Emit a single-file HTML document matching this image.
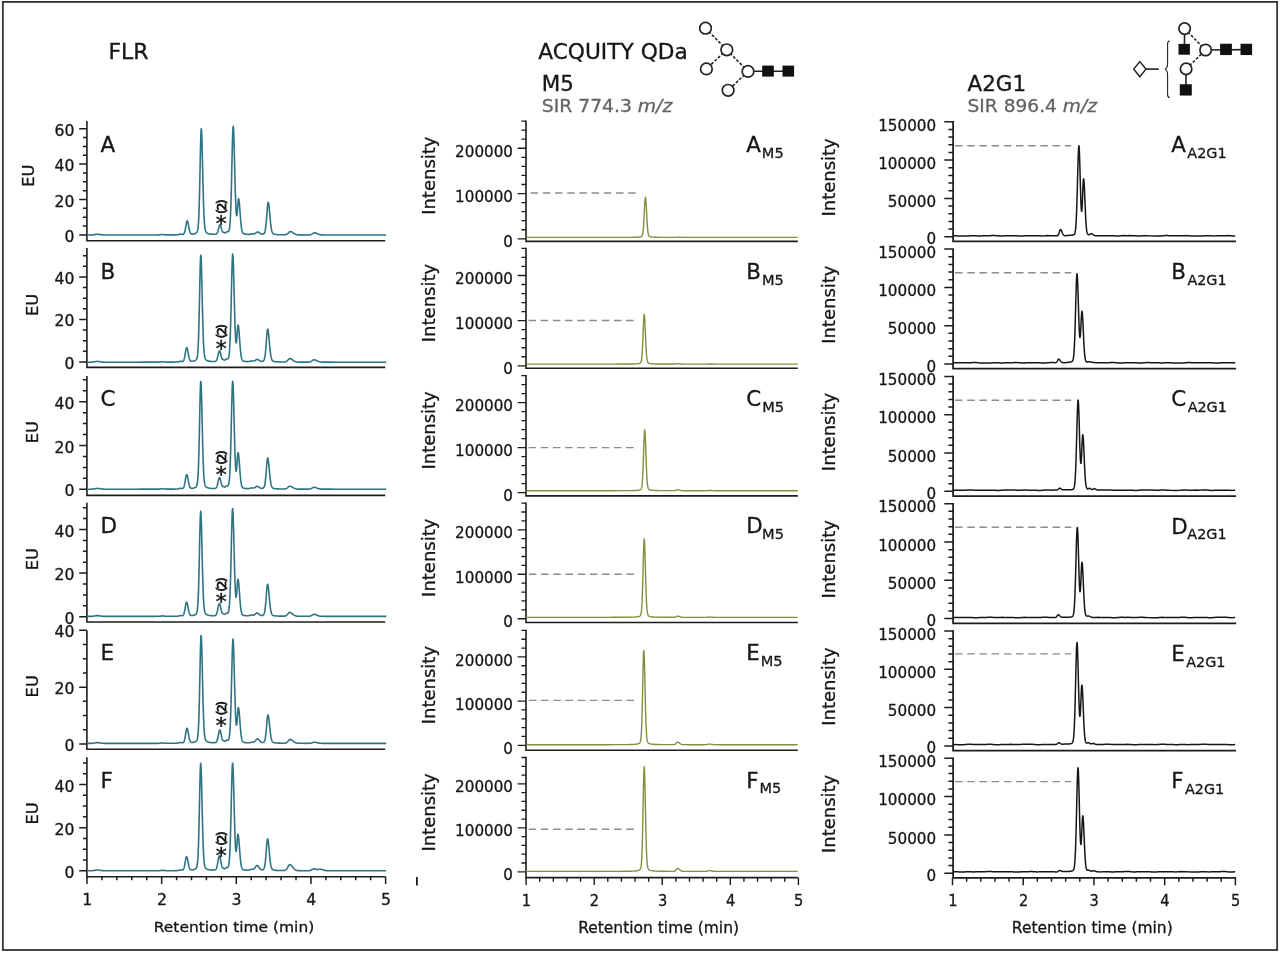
<!DOCTYPE html>
<html lang="en"><head><meta charset="utf-8"><title>FLR and ACQUITY QDa chromatograms</title>
<style>html,body{margin:0;padding:0;background:#fff}svg{display:block}text{font-family:"DejaVu Sans", "Liberation Sans", sans-serif;fill:#161616;stroke:#161616;stroke-width:0.3px}</style></head><body>
<svg width="1280" height="954" viewBox="0 0 1280 954">
<rect x="0" y="0" width="1280" height="954" fill="#fff"/>
<rect x="2.85" y="1.9" width="1274.3" height="948.1" fill="none" stroke="#333" stroke-width="1.8"/>
<text transform="translate(108.4 58.6) scale(1.0427 1)" font-size="21.1">FLR</text>
<text transform="translate(538.2 58.65) scale(1.0293 1)" font-size="21.1">ACQUITY QDa</text>
<text transform="translate(541.7 91.25) scale(1.0190 1)" font-size="21">M5</text>
<text transform="translate(541.8 112.4) scale(1.1096 1)" font-size="16.9" style="fill:#636363;stroke:#636363">SIR 774.3 <tspan font-style="italic">m/z</tspan></text>
<text transform="translate(967.6 91.3) scale(1.0190 1)" font-size="21">A2G1</text>
<text transform="translate(967.5 112.35) scale(1.1011 1)" font-size="16.9" style="fill:#636363;stroke:#636363">SIR 896.4 <tspan font-style="italic">m/z</tspan></text>
<g><path d="M86.9 121.1 V240.7 H385.2" fill="none" stroke="#1c1c1c" stroke-width="1.6" stroke-linejoin="miter"/><text transform="translate(74.5 241.9) scale(1.0288 1)" font-size="15.2" text-anchor="end">0</text><text transform="translate(74.5 206.5) scale(1.0288 1)" font-size="15.2" text-anchor="end">20</text><text transform="translate(74.5 171.1) scale(1.0288 1)" font-size="15.2" text-anchor="end">40</text><text transform="translate(74.5 135.7) scale(1.0288 1)" font-size="15.2" text-anchor="end">60</text><path d="M79.2 234.9H86.9M82.9 226.05H86.9M82.9 217.2H86.9M82.9 208.35H86.9M79.2 199.5H86.9M82.9 190.65H86.9M82.9 181.8H86.9M82.9 172.95H86.9M79.2 164.1H86.9M82.9 155.25H86.9M82.9 146.4H86.9M82.9 137.55H86.9M79.2 128.7H86.9" stroke="#1c1c1c" stroke-width="1.5" fill="none"/><text transform="translate(34.3 175.75) rotate(-90) scale(1.0639 1)" font-size="15.3" text-anchor="middle">EU</text><text transform="translate(100.5 151.8) scale(1.0190 1)" font-size="21.1">A</text><path d="M87.2 234.99 L91.2 234.95 L91.95 234.92 L92.45 234.88 L92.95 234.83 L93.2 234.8 L93.45 234.77 L93.7 234.73 L93.95 234.69 L94.2 234.65 L94.45 234.6 L94.7 234.56 L94.95 234.51 L95.2 234.46 L95.45 234.42 L95.7 234.37 L95.95 234.33 L96.2 234.3 L96.45 234.26 L96.95 234.22 L98.45 234.25 L98.7 234.28 L98.95 234.32 L99.2 234.36 L99.45 234.4 L99.7 234.45 L99.95 234.49 L100.2 234.54 L100.45 234.59 L100.7 234.63 L100.95 234.67 L101.2 234.71 L101.45 234.75 L101.7 234.79 L101.95 234.82 L102.45 234.87 L102.95 234.91 L103.7 234.95 L105.2 234.98 L111.45 234.99 L117.7 234.99 L123.95 234.98 L130.2 234.98 L136.45 234.98 L142.7 234.97 L148.95 234.97 L155.2 234.96 L158.45 234.93 L159.2 234.88 L159.7 234.84 L159.95 234.81 L160.2 234.77 L160.45 234.73 L160.7 234.69 L160.95 234.65 L161.2 234.62 L161.45 234.58 L161.7 234.55 L162.2 234.51 L163.45 234.56 L163.7 234.59 L163.95 234.63 L164.2 234.67 L164.45 234.71 L164.7 234.74 L164.95 234.78 L165.2 234.81 L165.7 234.86 L166.2 234.89 L167.7 234.92 L173.45 234.89 L176.2 234.86 L177.2 234.82 L177.7 234.78 L177.95 234.74 L178.2 234.7 L178.45 234.64 L178.7 234.57 L178.95 234.49 L179.2 234.41 L179.45 234.32 L179.7 234.24 L179.95 234.18 L180.2 234.13 L180.95 234.12 L181.2 234.17 L181.45 234.22 L181.7 234.28 L181.95 234.34 L182.2 234.39 L182.45 234.42 L182.95 234.4 L183.2 234.32 L183.45 234.19 L183.7 233.97 L183.95 233.65 L184.2 233.2 L184.45 232.6 L184.7 231.82 L184.95 230.86 L185.2 229.72 L185.45 228.41 L185.7 226.99 L185.95 225.52 L186.2 224.1 L186.45 222.82 L186.7 221.8 L186.95 221.14 L187.2 220.9 L187.45 221.09 L187.7 221.67 L187.95 222.57 L188.2 223.71 L188.45 225.01 L188.7 226.37 L188.95 227.72 L189.2 228.98 L189.45 230.12 L189.7 231.1 L189.95 231.91 L190.2 232.57 L190.45 233.07 L190.7 233.44 L190.95 233.71 L191.2 233.89 L191.45 234.01 L191.7 234.09 L191.95 234.12 L192.95 234.09 L193.2 234.06 L193.45 234.02 L193.7 233.98 L193.95 233.92 L194.2 233.86 L194.45 233.8 L194.7 233.72 L194.95 233.64 L195.2 233.54 L195.45 233.44 L195.7 233.31 L195.95 233.17 L196.2 233 L196.45 232.79 L196.7 232.52 L196.95 232.16 L197.2 231.66 L197.45 230.95 L197.7 229.9 L197.95 228.37 L198.2 226.16 L198.45 223.02 L198.7 218.71 L198.95 212.98 L199.2 205.66 L199.45 196.7 L199.7 186.23 L199.95 174.63 L200.2 162.51 L200.45 150.75 L200.7 140.44 L200.95 132.78 L201.2 128.86 L201.45 129.17 L201.7 133.11 L201.95 140.11 L202.2 149.33 L202.45 159.88 L202.7 170.9 L202.95 181.69 L203.2 191.73 L203.45 200.63 L203.7 208.23 L203.95 214.46 L204.2 219.41 L204.45 223.21 L204.7 226.05 L204.95 228.12 L205.2 229.6 L205.45 230.65 L205.7 231.39 L205.95 231.92 L206.2 232.31 L206.45 232.6 L206.7 232.82 L206.95 233 L207.2 233.15 L207.45 233.28 L207.7 233.4 L207.95 233.5 L208.2 233.59 L208.45 233.67 L208.7 233.74 L208.95 233.8 L209.2 233.86 L209.45 233.92 L209.7 233.96 L209.95 234.01 L210.2 234.05 L210.45 234.09 L210.7 234.12 L210.95 234.15 L211.45 234.2 L211.95 234.24 L212.45 234.28 L213.2 234.32 L215.2 234.31 L215.45 234.28 L215.7 234.23 L215.95 234.15 L216.2 234.04 L216.45 233.87 L216.7 233.64 L216.95 233.32 L217.2 232.91 L217.45 232.38 L217.7 231.72 L217.95 230.95 L218.2 230.08 L218.45 229.13 L218.7 228.14 L218.95 227.19 L219.2 226.32 L219.45 225.61 L219.7 225.12 L219.95 224.91 L220.2 224.99 L220.45 225.35 L220.7 225.95 L220.95 226.73 L221.2 227.63 L221.45 228.57 L221.7 229.47 L221.95 230.29 L222.2 230.99 L222.45 231.53 L222.7 231.91 L222.95 232.14 L223.2 232.26 L223.45 232.32 L223.7 232.35 L223.95 232.42 L224.2 232.52 L224.45 232.65 L224.7 232.78 L224.95 232.88 L225.2 232.91 L225.45 232.85 L225.7 232.71 L225.95 232.49 L226.2 232.25 L226.45 232.02 L226.7 231.85 L226.95 231.76 L227.45 231.76 L227.7 231.79 L227.95 231.79 L228.2 231.73 L228.45 231.55 L228.7 231.21 L228.95 230.65 L229.2 229.78 L229.45 228.51 L229.7 226.68 L229.95 224.14 L230.2 220.69 L230.45 216.13 L230.7 210.32 L230.95 203.13 L231.2 194.57 L231.45 184.77 L231.7 174.02 L231.95 162.8 L232.2 151.76 L232.45 141.7 L232.7 133.55 L232.95 128.18 L233.2 126.3 L233.45 127.85 L233.7 132.36 L233.95 139.32 L234.2 148.07 L234.45 157.88 L234.7 168.1 L234.95 178.13 L235.2 187.5 L235.45 195.86 L235.7 202.93 L235.95 208.53 L236.2 212.55 L236.45 214.93 L236.7 215.7 L236.95 214.96 L237.2 212.91 L237.45 209.9 L237.7 206.4 L237.95 202.97 L238.2 200.22 L238.45 198.73 L238.7 198.79 L238.95 199.86 L239.2 201.74 L239.45 204.27 L239.7 207.29 L239.95 210.59 L240.2 213.98 L240.45 217.28 L240.7 220.36 L240.95 223.12 L241.2 225.52 L241.45 227.52 L241.7 229.15 L241.95 230.44 L242.2 231.42 L242.45 232.16 L242.7 232.71 L242.95 233.1 L243.2 233.39 L243.45 233.59 L243.7 233.74 L243.95 233.85 L244.2 233.94 L244.45 234 L244.7 234.06 L244.95 234.11 L245.2 234.15 L245.45 234.18 L245.7 234.22 L245.95 234.25 L246.45 234.3 L246.95 234.35 L247.45 234.38 L248.2 234.41 L249.2 234.38 L249.45 234.35 L249.7 234.31 L249.95 234.26 L250.2 234.21 L250.45 234.14 L250.7 234.07 L250.95 234 L251.2 233.94 L251.45 233.88 L251.7 233.84 L252.2 233.8 L252.95 233.85 L253.45 233.89 L253.95 233.89 L254.2 233.85 L254.45 233.79 L254.7 233.7 L254.95 233.58 L255.2 233.44 L255.45 233.27 L255.7 233.09 L255.95 232.9 L256.2 232.71 L256.45 232.52 L256.7 232.35 L256.95 232.21 L257.2 232.1 L257.45 232.03 L257.95 232.02 L258.2 232.08 L258.45 232.19 L258.7 232.33 L258.95 232.49 L259.2 232.67 L259.45 232.86 L259.7 233.06 L259.95 233.25 L260.2 233.43 L260.45 233.59 L260.7 233.73 L260.95 233.85 L261.2 233.96 L261.45 234.04 L261.7 234.1 L261.95 234.14 L262.7 234.14 L262.95 234.11 L263.2 234.05 L263.45 233.96 L263.7 233.83 L263.95 233.64 L264.2 233.37 L264.45 232.98 L264.7 232.43 L264.95 231.66 L265.2 230.63 L265.45 229.26 L265.7 227.52 L265.95 225.36 L266.2 222.79 L266.45 219.85 L266.7 216.62 L266.95 213.25 L267.2 209.93 L267.45 206.91 L267.7 204.47 L267.95 202.86 L268.2 202.3 L268.45 202.71 L268.7 203.88 L268.95 205.71 L269.2 208.04 L269.45 210.7 L269.7 213.53 L269.95 216.38 L270.2 219.15 L270.45 221.73 L270.7 224.06 L270.95 226.1 L271.2 227.85 L271.45 229.3 L271.7 230.49 L271.95 231.43 L272.2 232.16 L272.45 232.72 L272.7 233.15 L272.95 233.47 L273.2 233.7 L273.45 233.88 L273.7 234.01 L273.95 234.12 L274.2 234.2 L274.45 234.26 L274.7 234.32 L274.95 234.36 L275.2 234.4 L275.45 234.44 L275.7 234.47 L276.2 234.52 L276.7 234.57 L277.2 234.6 L277.7 234.64 L278.45 234.68 L279.2 234.71 L280.2 234.74 L281.45 234.77 L285.2 234.73 L285.45 234.7 L285.7 234.65 L285.95 234.6 L286.2 234.52 L286.45 234.43 L286.7 234.31 L286.95 234.18 L287.2 234.01 L287.45 233.83 L287.7 233.62 L287.95 233.38 L288.2 233.14 L288.45 232.88 L288.7 232.61 L288.95 232.36 L289.2 232.12 L289.45 231.9 L289.7 231.72 L289.95 231.59 L290.2 231.52 L290.7 231.52 L290.95 231.57 L291.2 231.65 L291.45 231.75 L291.7 231.88 L291.95 232.02 L292.2 232.18 L292.45 232.35 L292.7 232.52 L292.95 232.71 L293.2 232.89 L293.45 233.08 L293.7 233.25 L293.95 233.43 L294.2 233.59 L294.45 233.75 L294.7 233.89 L294.95 234.02 L295.2 234.14 L295.45 234.25 L295.7 234.35 L295.95 234.44 L296.2 234.51 L296.45 234.58 L296.7 234.63 L296.95 234.68 L297.2 234.72 L297.45 234.76 L297.95 234.81 L298.45 234.85 L299.2 234.88 L300.95 234.91 L307.2 234.93 L308.95 234.9 L309.45 234.87 L309.7 234.84 L309.95 234.81 L310.2 234.77 L310.45 234.72 L310.7 234.66 L310.95 234.58 L311.2 234.49 L311.45 234.38 L311.7 234.26 L311.95 234.12 L312.2 233.97 L312.45 233.81 L312.7 233.65 L312.95 233.48 L313.2 233.32 L313.45 233.17 L313.7 233.03 L313.95 232.93 L314.2 232.85 L314.45 232.81 L314.95 232.82 L315.2 232.85 L315.45 232.91 L315.7 232.97 L315.95 233.05 L316.2 233.15 L316.45 233.25 L316.7 233.36 L316.95 233.47 L317.2 233.58 L317.45 233.7 L317.7 233.82 L317.95 233.93 L318.2 234.04 L318.45 234.14 L318.7 234.24 L318.95 234.33 L319.2 234.41 L319.45 234.49 L319.7 234.55 L319.95 234.61 L320.2 234.67 L320.45 234.71 L320.7 234.75 L320.95 234.79 L321.45 234.84 L321.95 234.88 L322.7 234.91 L324.2 234.95 L330.45 234.97 L336.7 234.98 L342.95 234.98 L349.2 234.98 L355.45 234.99 L361.7 234.99 L367.95 234.99 L374.2 234.99 L380.45 234.99 L386.2 234.99" fill="none" stroke="#2f7484" stroke-width="1.6" stroke-linejoin="round"/><text x="221.2" y="230.9" font-size="22" text-anchor="middle" style="fill:#111;stroke:#111;stroke-width:0.45px">*</text><text transform="translate(226.4 213.9) rotate(-90)" font-size="13" letter-spacing="-1.9" style="fill:#111;stroke:#111;stroke-width:0.7px">(2)</text></g>
<g><path d="M86.9 248.1 V367.4 H385.2" fill="none" stroke="#1c1c1c" stroke-width="1.6" stroke-linejoin="miter"/><text transform="translate(74.5 368.9) scale(1.0288 1)" font-size="15.2" text-anchor="end">0</text><text transform="translate(74.5 326.4) scale(1.0288 1)" font-size="15.2" text-anchor="end">20</text><text transform="translate(74.5 283.9) scale(1.0288 1)" font-size="15.2" text-anchor="end">40</text><path d="M79.2 361.9H86.9M82.9 351.27H86.9M82.9 340.65H86.9M82.9 330.02H86.9M79.2 319.4H86.9M82.9 308.77H86.9M82.9 298.15H86.9M82.9 287.52H86.9M79.2 276.9H86.9M82.9 266.27H86.9M82.9 255.65H86.9" stroke="#1c1c1c" stroke-width="1.5" fill="none"/><text transform="translate(37.7 305) rotate(-90) scale(1.0639 1)" font-size="15.3" text-anchor="middle">EU</text><text transform="translate(100.5 278.96) scale(1.0190 1)" font-size="21.1">B</text><path d="M87.2 362.19 L91.2 362.15 L91.95 362.12 L92.45 362.08 L92.95 362.03 L93.2 362 L93.45 361.97 L93.7 361.93 L93.95 361.89 L94.2 361.85 L94.45 361.8 L94.7 361.76 L94.95 361.71 L95.2 361.66 L95.45 361.62 L95.7 361.57 L95.95 361.53 L96.2 361.5 L96.45 361.46 L96.95 361.42 L98.45 361.45 L98.7 361.48 L98.95 361.52 L99.2 361.56 L99.45 361.6 L99.7 361.65 L99.95 361.69 L100.2 361.74 L100.45 361.79 L100.7 361.83 L100.95 361.87 L101.2 361.91 L101.45 361.95 L101.7 361.99 L101.95 362.02 L102.45 362.07 L102.95 362.11 L103.7 362.15 L105.2 362.18 L111.45 362.19 L117.7 362.18 L123.95 362.18 L130.2 362.18 L136.45 362.18 L142.7 362.17 L148.95 362.17 L155.2 362.16 L158.45 362.12 L159.2 362.08 L159.7 362.03 L159.95 362 L160.2 361.97 L160.45 361.93 L160.7 361.89 L160.95 361.85 L161.2 361.82 L161.45 361.78 L161.7 361.75 L162.2 361.71 L163.45 361.76 L163.7 361.79 L163.95 361.83 L164.2 361.87 L164.45 361.91 L164.7 361.94 L164.95 361.98 L165.2 362.01 L165.7 362.05 L166.2 362.09 L167.7 362.12 L173.2 362.09 L175.95 362.05 L177.2 362.01 L177.7 361.97 L177.95 361.93 L178.2 361.89 L178.45 361.83 L178.7 361.77 L178.95 361.69 L179.2 361.61 L179.45 361.52 L179.7 361.45 L179.95 361.38 L180.2 361.33 L180.7 361.3 L180.95 361.32 L181.2 361.35 L181.45 361.4 L181.7 361.45 L181.95 361.49 L182.45 361.49 L182.7 361.43 L182.95 361.3 L183.2 361.09 L183.45 360.77 L183.7 360.31 L183.95 359.69 L184.2 358.89 L184.45 357.89 L184.7 356.7 L184.95 355.33 L185.2 353.85 L185.45 352.32 L185.7 350.83 L185.95 349.5 L186.2 348.44 L186.45 347.75 L186.7 347.5 L186.95 347.7 L187.2 348.3 L187.45 349.24 L187.7 350.44 L187.95 351.79 L188.2 353.21 L188.45 354.62 L188.7 355.94 L188.95 357.12 L189.2 358.15 L189.45 359 L189.7 359.68 L189.95 360.2 L190.2 360.59 L190.45 360.87 L190.7 361.07 L190.95 361.19 L191.2 361.27 L191.45 361.31 L192.45 361.28 L192.7 361.25 L192.95 361.21 L193.2 361.17 L193.45 361.11 L193.7 361.05 L193.95 360.99 L194.2 360.91 L194.45 360.83 L194.7 360.73 L194.95 360.62 L195.2 360.5 L195.45 360.36 L195.7 360.18 L195.95 359.97 L196.2 359.7 L196.45 359.34 L196.7 358.84 L196.95 358.12 L197.2 357.07 L197.45 355.53 L197.7 353.3 L197.95 350.14 L198.2 345.8 L198.45 340.04 L198.7 332.67 L198.95 323.65 L199.2 313.11 L199.45 301.43 L199.7 289.23 L199.95 277.4 L200.2 267.02 L200.45 259.31 L200.7 255.36 L200.95 255.67 L201.2 259.64 L201.45 266.68 L201.7 275.97 L201.95 286.58 L202.2 297.68 L202.45 308.54 L202.7 318.64 L202.95 327.61 L203.2 335.25 L203.45 341.53 L203.7 346.51 L203.95 350.33 L204.2 353.19 L204.45 355.27 L204.7 356.76 L204.95 357.82 L205.2 358.57 L205.45 359.1 L205.7 359.49 L205.95 359.78 L206.2 360.01 L206.45 360.19 L206.7 360.34 L206.95 360.47 L207.2 360.59 L207.45 360.69 L207.7 360.78 L207.95 360.86 L208.2 360.93 L208.45 360.99 L208.7 361.05 L208.95 361.11 L209.2 361.16 L209.45 361.2 L209.7 361.24 L209.95 361.28 L210.2 361.31 L210.45 361.34 L210.95 361.39 L211.45 361.44 L211.95 361.47 L212.7 361.51 L214.7 361.49 L214.95 361.45 L215.2 361.4 L215.45 361.31 L215.7 361.18 L215.95 361 L216.2 360.74 L216.45 360.38 L216.7 359.91 L216.95 359.31 L217.2 358.58 L217.45 357.71 L217.7 356.72 L217.95 355.65 L218.2 354.55 L218.45 353.47 L218.7 352.49 L218.95 351.7 L219.2 351.15 L219.45 350.91 L219.7 351 L219.95 351.4 L220.2 352.09 L220.45 352.97 L220.7 353.99 L220.95 355.05 L221.2 356.08 L221.45 357.02 L221.7 357.82 L221.95 358.45 L222.2 358.91 L222.45 359.21 L222.7 359.38 L222.95 359.47 L223.2 359.54 L223.45 359.62 L223.7 359.73 L223.95 359.87 L224.2 360 L224.45 360.09 L224.7 360.12 L224.95 360.06 L225.2 359.91 L225.45 359.69 L225.7 359.45 L225.95 359.22 L226.2 359.05 L226.45 358.96 L226.95 358.96 L227.2 358.99 L227.45 359 L227.7 358.94 L227.95 358.76 L228.2 358.42 L228.45 357.86 L228.7 357 L228.95 355.73 L229.2 353.92 L229.45 351.39 L229.7 347.96 L229.95 343.43 L230.2 337.65 L230.45 330.51 L230.7 321.99 L230.95 312.25 L231.2 301.56 L231.45 290.4 L231.7 279.42 L231.95 269.42 L232.2 261.31 L232.45 255.97 L232.7 254.1 L232.95 255.65 L233.2 260.16 L233.45 267.11 L233.7 275.85 L233.95 285.64 L234.2 295.82 L234.45 305.81 L234.7 315.14 L234.95 323.45 L235.2 330.46 L235.45 335.99 L235.7 339.94 L235.95 342.24 L236.2 342.91 L236.45 342.04 L236.7 339.86 L236.95 336.7 L237.2 333.04 L237.45 329.46 L237.7 326.61 L237.95 325.04 L238.2 325.09 L238.45 326.18 L238.7 328.1 L238.95 330.7 L239.2 333.8 L239.45 337.18 L239.7 340.66 L239.95 344.04 L240.2 347.21 L240.45 350.04 L240.7 352.5 L240.95 354.56 L241.2 356.23 L241.45 357.55 L241.7 358.56 L241.95 359.32 L242.2 359.88 L242.45 360.28 L242.7 360.57 L242.95 360.78 L243.2 360.93 L243.45 361.05 L243.7 361.13 L243.95 361.2 L244.2 361.26 L244.45 361.3 L244.7 361.35 L244.95 361.38 L245.2 361.42 L245.45 361.45 L245.95 361.5 L246.45 361.54 L246.95 361.58 L248.7 361.56 L248.95 361.53 L249.2 361.48 L249.45 361.43 L249.7 361.36 L249.95 361.29 L250.2 361.21 L250.45 361.13 L250.7 361.05 L250.95 360.99 L251.2 360.94 L251.45 360.91 L252.2 360.93 L252.45 360.97 L252.7 361.01 L252.95 361.04 L253.7 361.05 L253.95 361.01 L254.2 360.94 L254.45 360.84 L254.7 360.71 L254.95 360.56 L255.2 360.4 L255.45 360.23 L255.7 360.05 L255.95 359.88 L256.2 359.72 L256.45 359.59 L256.7 359.49 L256.95 359.42 L257.45 359.42 L257.7 359.48 L257.95 359.57 L258.2 359.7 L258.45 359.85 L258.7 360.02 L258.95 360.19 L259.2 360.37 L259.45 360.55 L259.7 360.71 L259.95 360.86 L260.2 360.99 L260.45 361.1 L260.7 361.19 L260.95 361.26 L261.2 361.32 L261.45 361.35 L262.2 361.35 L262.45 361.31 L262.7 361.25 L262.95 361.16 L263.2 361.02 L263.45 360.83 L263.7 360.56 L263.95 360.16 L264.2 359.61 L264.45 358.84 L264.7 357.79 L264.95 356.41 L265.2 354.65 L265.45 352.47 L265.7 349.88 L265.95 346.91 L266.2 343.65 L266.45 340.25 L266.7 336.9 L266.95 333.86 L267.2 331.39 L267.45 329.77 L267.7 329.2 L267.95 329.61 L268.2 330.79 L268.45 332.64 L268.7 334.99 L268.95 337.67 L269.2 340.53 L269.45 343.41 L269.7 346.2 L269.95 348.81 L270.2 351.16 L270.45 353.22 L270.7 354.99 L270.95 356.45 L271.2 357.65 L271.45 358.6 L271.7 359.33 L271.95 359.9 L272.2 360.33 L272.45 360.65 L272.7 360.89 L272.95 361.07 L273.2 361.21 L273.45 361.31 L273.7 361.39 L273.95 361.46 L274.2 361.51 L274.45 361.56 L274.7 361.6 L274.95 361.63 L275.2 361.66 L275.7 361.72 L276.2 361.76 L276.7 361.8 L277.2 361.83 L277.95 361.87 L278.7 361.91 L279.7 361.94 L280.95 361.97 L284.7 361.93 L284.95 361.89 L285.2 361.85 L285.45 361.79 L285.7 361.71 L285.95 361.61 L286.2 361.5 L286.45 361.36 L286.7 361.19 L286.95 361 L287.2 360.78 L287.45 360.54 L287.7 360.28 L287.95 360.02 L288.2 359.75 L288.45 359.48 L288.7 359.23 L288.95 359.01 L289.2 358.83 L289.45 358.7 L289.7 358.62 L290.2 358.62 L290.45 358.67 L290.7 358.75 L290.95 358.86 L291.2 358.99 L291.45 359.13 L291.7 359.3 L291.95 359.47 L292.2 359.65 L292.45 359.84 L292.7 360.03 L292.95 360.22 L293.2 360.4 L293.45 360.58 L293.7 360.75 L293.95 360.91 L294.2 361.06 L294.45 361.2 L294.7 361.32 L294.95 361.43 L295.2 361.53 L295.45 361.62 L295.7 361.7 L295.95 361.77 L296.2 361.82 L296.45 361.87 L296.7 361.92 L296.95 361.95 L297.45 362.01 L297.95 362.04 L298.7 362.08 L300.45 362.11 L306.7 362.12 L308.45 362.09 L308.95 362.06 L309.2 362.03 L309.45 362 L309.7 361.95 L309.95 361.9 L310.2 361.83 L310.45 361.75 L310.7 361.65 L310.95 361.53 L311.2 361.4 L311.45 361.25 L311.7 361.08 L311.95 360.91 L312.2 360.72 L312.45 360.54 L312.7 360.36 L312.95 360.2 L313.2 360.05 L313.45 359.94 L313.7 359.85 L313.95 359.81 L314.45 359.82 L314.7 359.86 L314.95 359.91 L315.2 359.99 L315.45 360.08 L315.7 360.18 L315.95 360.29 L316.2 360.41 L316.45 360.53 L316.7 360.66 L316.95 360.78 L317.2 360.91 L317.45 361.03 L317.7 361.15 L317.95 361.26 L318.2 361.37 L318.45 361.47 L318.7 361.56 L318.95 361.64 L319.2 361.71 L319.45 361.78 L319.7 361.84 L319.95 361.89 L320.2 361.93 L320.45 361.97 L320.7 362 L321.2 362.05 L321.7 362.09 L322.45 362.12 L324.45 362.15 L330.7 362.17 L336.95 362.18 L343.2 362.18 L349.45 362.18 L355.7 362.19 L361.95 362.19 L368.2 362.19 L374.45 362.19 L380.7 362.19 L386.2 362.19" fill="none" stroke="#2f7484" stroke-width="1.6" stroke-linejoin="round"/><text x="221.2" y="355.5" font-size="22" text-anchor="middle" style="fill:#111;stroke:#111;stroke-width:0.45px">*</text><text transform="translate(226.4 338.5) rotate(-90)" font-size="13" letter-spacing="-1.9" style="fill:#111;stroke:#111;stroke-width:0.7px">(2)</text></g>
<g><path d="M86.9 375.9 V495.4 H385.2" fill="none" stroke="#1c1c1c" stroke-width="1.6" stroke-linejoin="miter"/><text transform="translate(74.5 496.3) scale(1.0288 1)" font-size="15.2" text-anchor="end">0</text><text transform="translate(74.5 452.5) scale(1.0288 1)" font-size="15.2" text-anchor="end">20</text><text transform="translate(74.5 408.7) scale(1.0288 1)" font-size="15.2" text-anchor="end">40</text><path d="M79.2 489.3H86.9M82.9 478.35H86.9M82.9 467.4H86.9M82.9 456.45H86.9M79.2 445.5H86.9M82.9 434.55H86.9M82.9 423.6H86.9M82.9 412.65H86.9M79.2 401.7H86.9M82.9 390.75H86.9M82.9 379.8H86.9" stroke="#1c1c1c" stroke-width="1.5" fill="none"/><text transform="translate(37.7 432.1) rotate(-90) scale(1.0639 1)" font-size="15.3" text-anchor="middle">EU</text><text transform="translate(100.5 406.12) scale(1.0190 1)" font-size="21.1">C</text><path d="M87.2 489.19 L91.2 489.15 L91.95 489.12 L92.45 489.08 L92.95 489.03 L93.2 489 L93.45 488.97 L93.7 488.93 L93.95 488.89 L94.2 488.85 L94.45 488.8 L94.7 488.76 L94.95 488.71 L95.2 488.66 L95.45 488.62 L95.7 488.57 L95.95 488.53 L96.2 488.5 L96.45 488.46 L96.95 488.42 L98.45 488.45 L98.7 488.48 L98.95 488.52 L99.2 488.56 L99.45 488.6 L99.7 488.65 L99.95 488.69 L100.2 488.74 L100.45 488.79 L100.7 488.83 L100.95 488.87 L101.2 488.91 L101.45 488.95 L101.7 488.99 L101.95 489.02 L102.45 489.07 L102.95 489.11 L103.7 489.15 L105.2 489.18 L111.45 489.19 L117.7 489.18 L123.95 489.18 L130.2 489.18 L136.45 489.18 L142.7 489.17 L148.95 489.17 L155.2 489.16 L158.45 489.12 L159.2 489.08 L159.7 489.03 L159.95 489 L160.2 488.97 L160.45 488.93 L160.7 488.89 L160.95 488.85 L161.2 488.82 L161.45 488.78 L161.7 488.75 L162.2 488.71 L163.45 488.76 L163.7 488.79 L163.95 488.83 L164.2 488.87 L164.45 488.91 L164.7 488.94 L164.95 488.98 L165.2 489.01 L165.7 489.05 L166.2 489.09 L167.7 489.12 L173.2 489.09 L175.95 489.05 L177.2 489.01 L177.7 488.97 L177.95 488.93 L178.2 488.89 L178.45 488.83 L178.7 488.77 L178.95 488.69 L179.2 488.61 L179.45 488.52 L179.7 488.45 L179.95 488.38 L180.2 488.33 L180.7 488.3 L180.95 488.32 L181.2 488.35 L181.45 488.4 L181.7 488.45 L181.95 488.48 L182.45 488.49 L182.7 488.43 L182.95 488.3 L183.2 488.09 L183.45 487.77 L183.7 487.31 L183.95 486.69 L184.2 485.89 L184.45 484.89 L184.7 483.69 L184.95 482.33 L185.2 480.85 L185.45 479.32 L185.7 477.83 L185.95 476.5 L186.2 475.44 L186.45 474.75 L186.7 474.5 L186.95 474.7 L187.2 475.3 L187.45 476.24 L187.7 477.44 L187.95 478.79 L188.2 480.21 L188.45 481.61 L188.7 482.93 L188.95 484.12 L189.2 485.14 L189.45 485.99 L189.7 486.67 L189.95 487.2 L190.2 487.59 L190.45 487.87 L190.7 488.06 L190.95 488.19 L191.2 488.26 L191.45 488.3 L192.45 488.28 L192.7 488.24 L192.95 488.2 L193.2 488.16 L193.45 488.11 L193.7 488.05 L193.95 487.98 L194.2 487.9 L194.45 487.82 L194.7 487.72 L194.95 487.61 L195.2 487.49 L195.45 487.34 L195.7 487.17 L195.95 486.95 L196.2 486.68 L196.45 486.32 L196.7 485.81 L196.95 485.09 L197.2 484.03 L197.45 482.47 L197.7 480.23 L197.95 477.04 L198.2 472.67 L198.45 466.85 L198.7 459.42 L198.95 450.32 L199.2 439.7 L199.45 427.92 L199.7 415.62 L199.95 403.69 L200.2 393.22 L200.45 385.45 L200.7 381.46 L200.95 381.78 L201.2 385.78 L201.45 392.88 L201.7 402.24 L201.95 412.95 L202.2 424.14 L202.45 435.09 L202.7 445.28 L202.95 454.32 L203.2 462.03 L203.45 468.36 L203.7 473.38 L203.95 477.23 L204.2 480.11 L204.45 482.21 L204.7 483.72 L204.95 484.78 L205.2 485.54 L205.45 486.07 L205.7 486.47 L205.95 486.76 L206.2 486.99 L206.45 487.17 L206.7 487.33 L206.95 487.46 L207.2 487.57 L207.45 487.68 L207.7 487.77 L207.95 487.85 L208.2 487.92 L208.45 487.99 L208.7 488.05 L208.95 488.1 L209.2 488.15 L209.45 488.19 L209.7 488.23 L209.95 488.27 L210.2 488.3 L210.45 488.33 L210.95 488.39 L211.45 488.43 L211.95 488.46 L212.7 488.5 L214.7 488.48 L214.95 488.45 L215.2 488.39 L215.45 488.3 L215.7 488.16 L215.95 487.97 L216.2 487.7 L216.45 487.33 L216.7 486.84 L216.95 486.22 L217.2 485.46 L217.45 484.56 L217.7 483.54 L217.95 482.43 L218.2 481.28 L218.45 480.16 L218.7 479.15 L218.95 478.33 L219.2 477.76 L219.45 477.51 L219.7 477.6 L219.95 478.02 L220.2 478.73 L220.45 479.65 L220.7 480.71 L220.95 481.81 L221.2 482.88 L221.45 483.86 L221.7 484.69 L221.95 485.36 L222.2 485.84 L222.45 486.16 L222.7 486.35 L222.95 486.46 L223.2 486.53 L223.45 486.62 L223.7 486.73 L223.95 486.87 L224.2 487.01 L224.45 487.1 L224.7 487.12 L224.95 487.06 L225.2 486.91 L225.45 486.69 L225.7 486.45 L225.95 486.22 L226.2 486.05 L226.45 485.96 L226.95 485.96 L227.2 486 L227.45 486 L227.7 485.94 L227.95 485.77 L228.2 485.43 L228.45 484.87 L228.7 484.01 L228.95 482.75 L229.2 480.94 L229.45 478.41 L229.7 474.99 L229.95 470.47 L230.2 464.7 L230.45 457.57 L230.7 449.07 L230.95 439.34 L231.2 428.67 L231.45 417.53 L231.7 406.57 L231.95 396.59 L232.2 388.49 L232.45 383.17 L232.7 381.3 L232.95 382.91 L233.2 387.57 L233.45 394.75 L233.7 403.74 L233.95 413.76 L234.2 424.14 L234.45 434.27 L234.7 443.67 L234.95 452 L235.2 458.98 L235.45 464.47 L235.7 468.35 L235.95 470.59 L236.2 471.21 L236.45 470.29 L236.7 468.05 L236.95 464.8 L237.2 461.04 L237.45 457.36 L237.7 454.4 L237.95 452.77 L238.2 452.78 L238.45 453.84 L238.7 455.72 L238.95 458.27 L239.2 461.31 L239.45 464.63 L239.7 468.05 L239.95 471.37 L240.2 474.48 L240.45 477.27 L240.7 479.69 L240.95 481.71 L241.2 483.35 L241.45 484.65 L241.7 485.64 L241.95 486.39 L242.2 486.93 L242.45 487.33 L242.7 487.62 L242.95 487.82 L243.2 487.97 L243.45 488.08 L243.7 488.16 L243.95 488.23 L244.2 488.28 L244.45 488.33 L244.7 488.37 L244.95 488.41 L245.2 488.44 L245.7 488.5 L246.2 488.54 L246.7 488.58 L247.45 488.62 L248.7 488.58 L248.95 488.54 L249.2 488.5 L249.45 488.44 L249.7 488.37 L249.95 488.29 L250.2 488.21 L250.45 488.13 L250.7 488.06 L250.95 487.99 L251.2 487.94 L251.45 487.91 L252.2 487.93 L252.45 487.97 L252.7 488 L252.95 488.04 L253.7 488.04 L253.95 487.99 L254.2 487.91 L254.45 487.81 L254.7 487.67 L254.95 487.52 L255.2 487.35 L255.45 487.16 L255.7 486.98 L255.95 486.8 L256.2 486.64 L256.45 486.5 L256.7 486.39 L256.95 486.33 L257.45 486.32 L257.7 486.38 L257.95 486.48 L258.2 486.62 L258.45 486.77 L258.7 486.95 L258.95 487.14 L259.2 487.32 L259.45 487.51 L259.7 487.68 L259.95 487.84 L260.2 487.98 L260.45 488.1 L260.7 488.19 L260.95 488.27 L261.2 488.33 L261.45 488.37 L262.2 488.38 L262.45 488.34 L262.7 488.29 L262.95 488.2 L263.2 488.08 L263.45 487.9 L263.7 487.64 L263.95 487.26 L264.2 486.74 L264.45 486.01 L264.7 485.01 L264.95 483.71 L265.2 482.04 L265.45 479.97 L265.7 477.51 L265.95 474.69 L266.2 471.6 L266.45 468.38 L266.7 465.21 L266.95 462.32 L267.2 459.97 L267.45 458.44 L267.7 457.9 L267.95 458.29 L268.2 459.41 L268.45 461.16 L268.7 463.39 L268.95 465.94 L269.2 468.65 L269.45 471.38 L269.7 474.03 L269.95 476.49 L270.2 478.73 L270.45 480.68 L270.7 482.36 L270.95 483.75 L271.2 484.88 L271.45 485.78 L271.7 486.48 L271.95 487.02 L272.2 487.43 L272.45 487.73 L272.7 487.96 L272.95 488.13 L273.2 488.26 L273.45 488.35 L273.7 488.43 L273.95 488.49 L274.2 488.55 L274.45 488.59 L274.7 488.63 L274.95 488.66 L275.45 488.72 L275.95 488.76 L276.45 488.8 L276.95 488.84 L277.7 488.88 L278.45 488.91 L279.45 488.95 L280.7 488.98 L282.95 489.01 L284.45 488.97 L284.95 488.93 L285.2 488.89 L285.45 488.84 L285.7 488.78 L285.95 488.7 L286.2 488.6 L286.45 488.48 L286.7 488.35 L286.95 488.19 L287.2 488.01 L287.45 487.81 L287.7 487.6 L287.95 487.37 L288.2 487.15 L288.45 486.93 L288.7 486.73 L288.95 486.54 L289.2 486.39 L289.45 486.28 L289.7 486.22 L290.2 486.22 L290.45 486.26 L290.7 486.33 L290.95 486.42 L291.2 486.52 L291.45 486.64 L291.7 486.78 L291.95 486.92 L292.2 487.08 L292.45 487.23 L292.7 487.39 L292.95 487.55 L293.2 487.7 L293.45 487.85 L293.7 487.99 L293.95 488.12 L294.2 488.24 L294.45 488.36 L294.7 488.46 L294.95 488.55 L295.2 488.64 L295.45 488.71 L295.7 488.78 L295.95 488.83 L296.2 488.88 L296.45 488.92 L296.7 488.96 L297.2 489.01 L297.7 489.05 L298.45 489.08 L299.95 489.11 L306.2 489.13 L308.7 489.1 L309.2 489.06 L309.45 489.03 L309.7 489 L309.95 488.96 L310.2 488.9 L310.45 488.84 L310.7 488.76 L310.95 488.66 L311.2 488.56 L311.45 488.44 L311.7 488.31 L311.95 488.17 L312.2 488.03 L312.45 487.88 L312.7 487.74 L312.95 487.61 L313.2 487.5 L313.45 487.41 L313.7 487.34 L313.95 487.31 L314.45 487.32 L314.7 487.35 L314.95 487.39 L315.2 487.45 L315.45 487.52 L315.7 487.6 L315.95 487.69 L316.2 487.78 L316.45 487.88 L316.7 487.98 L316.95 488.08 L317.2 488.18 L317.45 488.27 L317.7 488.37 L317.95 488.46 L318.2 488.54 L318.45 488.62 L318.7 488.69 L318.95 488.75 L319.2 488.81 L319.45 488.86 L319.7 488.91 L319.95 488.95 L320.2 488.98 L320.7 489.04 L321.2 489.08 L321.95 489.12 L323.45 489.15 L329.7 489.17 L335.95 489.18 L342.2 489.18 L348.45 489.18 L354.7 489.19 L360.95 489.19 L367.2 489.19 L373.45 489.19 L379.7 489.19 L385.95 489.19 L386.2 489.19" fill="none" stroke="#2f7484" stroke-width="1.6" stroke-linejoin="round"/><text x="221.2" y="481.8" font-size="22" text-anchor="middle" style="fill:#111;stroke:#111;stroke-width:0.45px">*</text><text transform="translate(226.4 464.8) rotate(-90)" font-size="13" letter-spacing="-1.9" style="fill:#111;stroke:#111;stroke-width:0.7px">(2)</text></g>
<g><path d="M86.9 502.8 V622 H385.2" fill="none" stroke="#1c1c1c" stroke-width="1.6" stroke-linejoin="miter"/><text transform="translate(74.5 623.7) scale(1.0288 1)" font-size="15.2" text-anchor="end">0</text><text transform="translate(74.5 580.1) scale(1.0288 1)" font-size="15.2" text-anchor="end">20</text><text transform="translate(74.5 536.5) scale(1.0288 1)" font-size="15.2" text-anchor="end">40</text><path d="M79.2 616.7H86.9M82.9 605.8H86.9M82.9 594.9H86.9M82.9 584H86.9M79.2 573.1H86.9M82.9 562.2H86.9M82.9 551.3H86.9M82.9 540.4H86.9M79.2 529.5H86.9M82.9 518.6H86.9M82.9 507.7H86.9" stroke="#1c1c1c" stroke-width="1.5" fill="none"/><text transform="translate(37.7 559.2) rotate(-90) scale(1.0639 1)" font-size="15.3" text-anchor="middle">EU</text><text transform="translate(100.5 533.28) scale(1.0190 1)" font-size="21.1">D</text><path d="M87.2 616.39 L91.2 616.35 L91.95 616.32 L92.45 616.28 L92.95 616.23 L93.2 616.2 L93.45 616.17 L93.7 616.13 L93.95 616.09 L94.2 616.05 L94.45 616 L94.7 615.96 L94.95 615.91 L95.2 615.86 L95.45 615.82 L95.7 615.77 L95.95 615.73 L96.2 615.7 L96.45 615.66 L96.95 615.62 L98.45 615.65 L98.7 615.68 L98.95 615.72 L99.2 615.76 L99.45 615.8 L99.7 615.85 L99.95 615.89 L100.2 615.94 L100.45 615.99 L100.7 616.03 L100.95 616.07 L101.2 616.11 L101.45 616.15 L101.7 616.19 L101.95 616.22 L102.45 616.27 L102.95 616.31 L103.7 616.35 L105.2 616.38 L111.45 616.39 L117.7 616.38 L123.95 616.38 L130.2 616.38 L136.45 616.38 L142.7 616.37 L148.95 616.37 L155.2 616.36 L158.45 616.32 L159.2 616.28 L159.7 616.23 L159.95 616.2 L160.2 616.17 L160.45 616.13 L160.7 616.09 L160.95 616.05 L161.2 616.02 L161.45 615.98 L161.7 615.95 L162.2 615.91 L163.45 615.96 L163.7 615.99 L163.95 616.03 L164.2 616.07 L164.45 616.11 L164.7 616.14 L164.95 616.18 L165.2 616.21 L165.7 616.26 L166.2 616.29 L167.7 616.32 L173.2 616.29 L175.95 616.26 L177.2 616.21 L177.7 616.17 L177.95 616.14 L178.2 616.09 L178.45 616.03 L178.7 615.97 L178.95 615.89 L179.2 615.81 L179.45 615.72 L179.7 615.65 L179.95 615.58 L180.2 615.53 L180.7 615.5 L180.95 615.52 L181.2 615.55 L181.45 615.59 L181.7 615.64 L181.95 615.68 L182.45 615.67 L182.7 615.59 L182.95 615.44 L183.2 615.2 L183.45 614.85 L183.7 614.35 L183.95 613.68 L184.2 612.83 L184.45 611.79 L184.7 610.57 L184.95 609.2 L185.2 607.74 L185.45 606.27 L185.7 604.88 L185.95 603.69 L186.2 602.79 L186.45 602.29 L186.7 602.23 L186.95 602.58 L187.2 603.3 L187.45 604.32 L187.7 605.54 L187.95 606.89 L188.2 608.26 L188.45 609.59 L188.7 610.82 L188.95 611.9 L189.2 612.83 L189.45 613.58 L189.7 614.18 L189.95 614.63 L190.2 614.96 L190.45 615.19 L190.7 615.35 L190.95 615.45 L191.2 615.51 L191.7 615.54 L192.45 615.49 L192.7 615.45 L192.95 615.41 L193.2 615.37 L193.45 615.31 L193.7 615.25 L193.95 615.18 L194.2 615.1 L194.45 615.02 L194.7 614.92 L194.95 614.81 L195.2 614.68 L195.45 614.53 L195.7 614.34 L195.95 614.12 L196.2 613.82 L196.45 613.42 L196.7 612.85 L196.95 612.03 L197.2 610.83 L197.45 609.08 L197.7 606.56 L197.95 603.03 L198.2 598.24 L198.45 591.97 L198.7 584.1 L198.95 574.63 L199.2 563.8 L199.45 552.06 L199.7 540.12 L199.95 528.95 L200.2 519.68 L200.45 513.49 L200.7 511.3 L200.95 513.11 L201.2 518.29 L201.45 526.18 L201.7 535.91 L201.95 546.6 L202.2 557.46 L202.45 567.87 L202.7 577.35 L202.95 585.64 L203.2 592.6 L203.45 598.23 L203.7 602.64 L203.95 605.98 L204.2 608.46 L204.45 610.25 L204.7 611.52 L204.95 612.42 L205.2 613.06 L205.45 613.52 L205.7 613.86 L205.95 614.12 L206.2 614.32 L206.45 614.49 L206.7 614.63 L206.95 614.75 L207.2 614.85 L207.45 614.95 L207.7 615.03 L207.95 615.11 L208.2 615.17 L208.45 615.24 L208.7 615.29 L208.95 615.34 L209.2 615.39 L209.45 615.43 L209.7 615.47 L209.95 615.5 L210.2 615.53 L210.7 615.58 L211.2 615.63 L211.7 615.66 L212.45 615.7 L214.45 615.69 L214.7 615.66 L214.95 615.61 L215.2 615.53 L215.45 615.41 L215.7 615.24 L215.95 614.99 L216.2 614.65 L216.45 614.19 L216.7 613.59 L216.95 612.84 L217.2 611.94 L217.45 610.88 L217.7 609.71 L217.95 608.45 L218.2 607.19 L218.45 605.98 L218.7 604.93 L218.95 604.12 L219.2 603.63 L219.45 603.51 L219.7 603.76 L219.95 604.36 L220.2 605.26 L220.45 606.35 L220.7 607.55 L220.95 608.77 L221.2 609.94 L221.45 610.97 L221.7 611.84 L221.95 612.52 L222.2 613.01 L222.45 613.34 L222.7 613.53 L222.95 613.66 L223.2 613.76 L223.45 613.87 L223.7 614 L223.95 614.14 L224.2 614.26 L224.45 614.33 L224.7 614.31 L224.95 614.21 L225.2 614.03 L225.45 613.79 L225.7 613.55 L225.95 613.34 L226.2 613.2 L226.45 613.14 L226.7 613.14 L226.95 613.17 L227.45 613.18 L227.7 613.08 L227.95 612.84 L228.2 612.43 L228.45 611.76 L228.7 610.75 L228.95 609.28 L229.2 607.2 L229.45 604.33 L229.7 600.49 L229.95 595.48 L230.2 589.16 L230.45 581.46 L230.7 572.43 L230.95 562.26 L231.2 551.32 L231.45 540.14 L231.7 529.45 L231.95 520.09 L232.2 512.99 L232.45 508.98 L232.7 508.55 L232.95 511.34 L233.2 516.92 L233.45 524.71 L233.7 533.99 L233.95 544.04 L234.2 554.24 L234.45 564.04 L234.7 573 L234.95 580.82 L235.2 587.26 L235.45 592.17 L235.7 595.45 L235.95 597.1 L236.2 597.14 L236.45 595.72 L236.7 593.1 L236.95 589.68 L237.2 585.97 L237.45 582.61 L237.7 580.2 L237.95 579.28 L238.2 579.82 L238.45 581.24 L238.7 583.44 L238.95 586.25 L239.2 589.47 L239.45 592.89 L239.7 596.33 L239.95 599.63 L240.2 602.66 L240.45 605.33 L240.7 607.62 L240.95 609.51 L241.2 611.02 L241.45 612.21 L241.7 613.11 L241.95 613.78 L242.2 614.27 L242.45 614.62 L242.7 614.87 L242.95 615.05 L243.2 615.19 L243.45 615.29 L243.7 615.36 L243.95 615.43 L244.2 615.48 L244.45 615.52 L244.7 615.56 L244.95 615.6 L245.2 615.63 L245.7 615.69 L246.2 615.73 L246.7 615.77 L247.45 615.8 L248.45 615.77 L248.7 615.74 L248.95 615.69 L249.2 615.63 L249.45 615.57 L249.7 615.49 L249.95 615.4 L250.2 615.31 L250.45 615.23 L250.7 615.15 L250.95 615.08 L251.2 615.03 L251.7 615 L252.2 615.04 L252.45 615.08 L252.7 615.11 L253.2 615.15 L253.45 615.13 L253.7 615.08 L253.95 615 L254.2 614.89 L254.45 614.75 L254.7 614.57 L254.95 614.38 L255.2 614.16 L255.45 613.94 L255.7 613.72 L255.95 613.52 L256.2 613.33 L256.45 613.18 L256.7 613.07 L256.95 613.01 L257.2 613 L257.45 613.05 L257.7 613.14 L257.95 613.28 L258.2 613.45 L258.45 613.65 L258.7 613.87 L258.95 614.1 L259.2 614.32 L259.45 614.54 L259.7 614.74 L259.95 614.92 L260.2 615.08 L260.45 615.21 L260.7 615.32 L260.95 615.41 L261.2 615.48 L261.45 615.52 L262.2 615.52 L262.45 615.48 L262.7 615.42 L262.95 615.32 L263.2 615.17 L263.45 614.96 L263.7 614.65 L263.95 614.21 L264.2 613.59 L264.45 612.74 L264.7 611.59 L264.95 610.11 L265.2 608.23 L265.45 605.94 L265.7 603.25 L265.95 600.23 L266.2 596.98 L266.45 593.65 L266.7 590.48 L266.95 587.7 L267.2 585.59 L267.45 584.4 L267.7 584.26 L267.95 584.98 L268.2 586.4 L268.45 588.42 L268.7 590.87 L268.95 593.57 L269.2 596.38 L269.45 599.17 L269.7 601.83 L269.95 604.28 L270.2 606.46 L270.45 608.36 L270.7 609.96 L270.95 611.29 L271.2 612.35 L271.45 613.19 L271.7 613.84 L271.95 614.34 L272.2 614.71 L272.45 614.99 L272.7 615.2 L272.95 615.35 L273.2 615.47 L273.45 615.56 L273.7 615.64 L273.95 615.69 L274.2 615.74 L274.45 615.79 L274.7 615.82 L274.95 615.86 L275.45 615.91 L275.95 615.96 L276.45 616 L276.95 616.03 L277.7 616.07 L278.45 616.1 L279.45 616.14 L280.7 616.17 L284.45 616.13 L284.7 616.1 L284.95 616.06 L285.2 616 L285.45 615.93 L285.7 615.83 L285.95 615.71 L286.2 615.57 L286.45 615.4 L286.7 615.21 L286.95 614.98 L287.2 614.73 L287.45 614.45 L287.7 614.16 L287.95 613.86 L288.2 613.56 L288.45 613.27 L288.7 613.01 L288.95 612.77 L289.2 612.59 L289.45 612.47 L289.7 612.4 L289.95 612.41 L290.2 612.44 L290.45 612.51 L290.7 612.61 L290.95 612.74 L291.2 612.89 L291.45 613.06 L291.7 613.25 L291.95 613.45 L292.2 613.66 L292.45 613.87 L292.7 614.08 L292.95 614.29 L293.2 614.49 L293.45 614.68 L293.7 614.87 L293.95 615.04 L294.2 615.2 L294.45 615.35 L294.7 615.48 L294.95 615.6 L295.2 615.71 L295.45 615.8 L295.7 615.88 L295.95 615.95 L296.2 616.01 L296.45 616.07 L296.7 616.11 L296.95 616.15 L297.2 616.18 L297.7 616.22 L298.2 616.25 L299.2 616.29 L302.2 616.32 L308.45 616.29 L308.95 616.26 L309.2 616.24 L309.45 616.2 L309.7 616.16 L309.95 616.11 L310.2 616.04 L310.45 615.97 L310.7 615.87 L310.95 615.76 L311.2 615.64 L311.45 615.5 L311.7 615.36 L311.95 615.2 L312.2 615.04 L312.45 614.88 L312.7 614.73 L312.95 614.6 L313.2 614.48 L313.45 614.39 L313.7 614.33 L314.45 614.33 L314.7 614.37 L314.95 614.42 L315.2 614.49 L315.45 614.58 L315.7 614.67 L315.95 614.77 L316.2 614.87 L316.45 614.98 L316.7 615.09 L316.95 615.2 L317.2 615.31 L317.45 615.42 L317.7 615.52 L317.95 615.62 L318.2 615.71 L318.45 615.79 L318.7 615.87 L318.95 615.93 L319.2 616 L319.45 616.05 L319.7 616.1 L319.95 616.14 L320.2 616.18 L320.45 616.21 L320.95 616.25 L321.45 616.29 L322.2 616.32 L324.2 616.35 L330.45 616.37 L336.7 616.38 L342.95 616.38 L349.2 616.38 L355.45 616.39 L361.7 616.39 L367.95 616.39 L374.2 616.39 L380.45 616.39 L386.2 616.39" fill="none" stroke="#2f7484" stroke-width="1.6" stroke-linejoin="round"/><text x="221.2" y="608.8" font-size="22" text-anchor="middle" style="fill:#111;stroke:#111;stroke-width:0.45px">*</text><text transform="translate(226.4 591.8) rotate(-90)" font-size="13" letter-spacing="-1.9" style="fill:#111;stroke:#111;stroke-width:0.7px">(2)</text></g>
<g><path d="M86.9 630.4 V749.3 H385.2" fill="none" stroke="#1c1c1c" stroke-width="1.6" stroke-linejoin="miter"/><text transform="translate(74.5 751) scale(1.0288 1)" font-size="15.2" text-anchor="end">0</text><text transform="translate(74.5 694.15) scale(1.0288 1)" font-size="15.2" text-anchor="end">20</text><text transform="translate(74.5 637.3) scale(1.0288 1)" font-size="15.2" text-anchor="end">40</text><path d="M79.2 744H86.9M82.9 729.79H86.9M82.9 715.58H86.9M82.9 701.36H86.9M79.2 687.15H86.9M82.9 672.94H86.9M82.9 658.73H86.9M82.9 644.51H86.9M79.2 630.3H86.9" stroke="#1c1c1c" stroke-width="1.5" fill="none"/><text transform="translate(37.7 686.3) rotate(-90) scale(1.0639 1)" font-size="15.3" text-anchor="middle">EU</text><text transform="translate(100.5 660.44) scale(1.0190 1)" font-size="21.1">E</text><path d="M87.2 743.39 L91.2 743.35 L91.95 743.32 L92.45 743.28 L92.95 743.23 L93.2 743.2 L93.45 743.17 L93.7 743.13 L93.95 743.09 L94.2 743.05 L94.45 743 L94.7 742.96 L94.95 742.91 L95.2 742.86 L95.45 742.82 L95.7 742.77 L95.95 742.73 L96.2 742.7 L96.45 742.66 L96.95 742.62 L98.45 742.65 L98.7 742.68 L98.95 742.72 L99.2 742.76 L99.45 742.8 L99.7 742.85 L99.95 742.89 L100.2 742.94 L100.45 742.99 L100.7 743.03 L100.95 743.07 L101.2 743.11 L101.45 743.15 L101.7 743.19 L101.95 743.22 L102.45 743.27 L102.95 743.31 L103.7 743.35 L105.2 743.38 L111.45 743.39 L117.7 743.39 L123.95 743.38 L130.2 743.38 L136.45 743.38 L142.7 743.37 L148.95 743.37 L155.2 743.36 L158.45 743.33 L159.2 743.28 L159.7 743.23 L159.95 743.2 L160.2 743.17 L160.45 743.13 L160.7 743.09 L160.95 743.05 L161.2 743.02 L161.45 742.98 L161.7 742.95 L162.2 742.91 L163.45 742.96 L163.7 742.99 L163.95 743.03 L164.2 743.07 L164.45 743.11 L164.7 743.14 L164.95 743.18 L165.2 743.21 L165.7 743.26 L166.2 743.29 L167.7 743.32 L173.2 743.29 L175.95 743.26 L177.2 743.22 L177.7 743.17 L177.95 743.14 L178.2 743.09 L178.45 743.04 L178.7 742.97 L178.95 742.89 L179.2 742.81 L179.45 742.72 L179.7 742.65 L179.95 742.58 L180.2 742.53 L180.95 742.52 L181.2 742.56 L181.45 742.61 L181.7 742.67 L181.95 742.72 L182.2 742.76 L182.7 742.75 L182.95 742.69 L183.2 742.56 L183.45 742.35 L183.7 742.04 L183.95 741.59 L184.2 740.98 L184.45 740.19 L184.7 739.2 L184.95 738.01 L185.2 736.64 L185.45 735.14 L185.7 733.57 L185.95 732.02 L186.2 730.61 L186.45 729.46 L186.7 728.66 L186.95 728.31 L187.2 728.43 L187.45 728.97 L187.7 729.87 L187.95 731.06 L188.2 732.42 L188.45 733.88 L188.7 735.33 L188.95 736.71 L189.2 737.96 L189.45 739.05 L189.7 739.96 L189.95 740.69 L190.2 741.26 L190.45 741.69 L190.7 742 L190.95 742.21 L191.2 742.36 L191.45 742.44 L191.7 742.49 L192.7 742.48 L192.95 742.45 L193.2 742.41 L193.45 742.37 L193.7 742.31 L193.95 742.26 L194.2 742.19 L194.45 742.12 L194.7 742.03 L194.95 741.94 L195.2 741.83 L195.45 741.71 L195.7 741.57 L195.95 741.4 L196.2 741.2 L196.45 740.94 L196.7 740.6 L196.95 740.13 L197.2 739.45 L197.45 738.47 L197.7 737.03 L197.95 734.94 L198.2 731.97 L198.45 727.85 L198.7 722.34 L198.95 715.24 L199.2 706.47 L199.45 696.13 L199.7 684.55 L199.95 672.29 L200.2 660.19 L200.45 649.34 L200.7 640.93 L200.95 636.12 L201.2 635.6 L201.45 638.91 L201.7 645.45 L201.95 654.43 L202.2 664.94 L202.45 676.1 L202.7 687.15 L202.95 697.52 L203.2 706.81 L203.45 714.79 L203.7 721.4 L203.95 726.67 L204.2 730.75 L204.45 733.81 L204.7 736.05 L204.95 737.66 L205.2 738.8 L205.45 739.61 L205.7 740.18 L205.95 740.6 L206.2 740.91 L206.45 741.15 L206.7 741.34 L206.95 741.5 L207.2 741.63 L207.45 741.75 L207.7 741.86 L207.95 741.95 L208.2 742.03 L208.45 742.11 L208.7 742.17 L208.95 742.23 L209.2 742.29 L209.45 742.34 L209.7 742.38 L209.95 742.42 L210.2 742.46 L210.45 742.5 L210.7 742.53 L211.2 742.58 L211.7 742.62 L212.2 742.66 L212.95 742.69 L214.95 742.67 L215.2 742.63 L215.45 742.57 L215.7 742.47 L215.95 742.33 L216.2 742.12 L216.45 741.82 L216.7 741.42 L216.95 740.88 L217.2 740.19 L217.45 739.34 L217.7 738.32 L217.95 737.16 L218.2 735.89 L218.45 734.56 L218.7 733.25 L218.95 732.04 L219.2 731.03 L219.45 730.3 L219.7 729.94 L219.95 729.97 L220.2 730.39 L220.45 731.15 L220.7 732.19 L220.95 733.39 L221.2 734.68 L221.45 735.95 L221.7 737.13 L221.95 738.16 L222.2 739 L222.45 739.64 L222.7 740.09 L222.95 740.38 L223.2 740.57 L223.45 740.69 L223.7 740.8 L223.95 740.93 L224.2 741.07 L224.45 741.21 L224.7 741.31 L224.95 741.35 L225.2 741.29 L225.45 741.15 L225.7 740.94 L225.95 740.7 L226.2 740.46 L226.45 740.27 L226.7 740.17 L227.2 740.17 L227.45 740.22 L227.7 740.25 L227.95 740.22 L228.2 740.08 L228.45 739.8 L228.7 739.32 L228.95 738.56 L229.2 737.42 L229.45 735.79 L229.7 733.5 L229.95 730.38 L230.2 726.23 L230.45 720.9 L230.7 714.27 L230.95 706.31 L231.2 697.12 L231.45 686.95 L231.7 676.22 L231.95 665.52 L232.2 655.6 L232.45 647.34 L232.7 641.59 L232.95 639.08 L233.2 639.98 L233.45 643.84 L233.7 650.21 L233.95 658.46 L234.2 667.85 L234.45 677.74 L234.7 687.53 L234.95 696.74 L235.2 705 L235.45 712.03 L235.7 717.66 L235.95 721.76 L236.2 724.28 L236.45 725.21 L236.7 724.63 L236.95 722.72 L237.2 719.77 L237.45 716.24 L237.7 712.67 L237.95 709.67 L238.2 707.83 L238.45 707.57 L238.7 708.45 L238.95 710.14 L239.2 712.53 L239.45 715.43 L239.7 718.65 L239.95 721.99 L240.2 725.28 L240.45 728.38 L240.7 731.18 L240.95 733.62 L241.2 735.68 L241.45 737.36 L241.7 738.7 L241.95 739.73 L242.2 740.5 L242.45 741.07 L242.7 741.49 L242.95 741.79 L243.2 742 L243.45 742.16 L243.7 742.27 L243.95 742.36 L244.2 742.43 L244.45 742.48 L244.7 742.53 L244.95 742.57 L245.2 742.61 L245.45 742.64 L245.95 742.7 L246.45 742.74 L246.95 742.78 L247.45 742.81 L249.2 742.77 L249.45 742.74 L249.7 742.69 L249.95 742.64 L250.2 742.57 L250.45 742.51 L250.7 742.44 L250.95 742.37 L251.2 742.31 L251.45 742.26 L251.7 742.22 L252.2 742.19 L253.2 742.18 L253.45 742.15 L253.7 742.09 L253.95 742 L254.2 741.88 L254.45 741.71 L254.7 741.5 L254.95 741.26 L255.2 740.99 L255.45 740.7 L255.7 740.39 L255.95 740.08 L256.2 739.78 L256.45 739.5 L256.7 739.26 L256.95 739.08 L257.2 738.96 L257.45 738.9 L257.7 738.92 L257.95 739.01 L258.2 739.17 L258.45 739.38 L258.7 739.64 L258.95 739.93 L259.2 740.24 L259.45 740.55 L259.7 740.86 L259.95 741.16 L260.2 741.43 L260.45 741.68 L260.7 741.89 L260.95 742.08 L261.2 742.23 L261.45 742.35 L261.7 742.44 L261.95 742.5 L262.2 742.54 L262.7 742.55 L262.95 742.52 L263.2 742.46 L263.45 742.36 L263.7 742.21 L263.95 742 L264.2 741.68 L264.45 741.24 L264.7 740.62 L264.95 739.77 L265.2 738.64 L265.45 737.19 L265.7 735.38 L265.95 733.22 L266.2 730.71 L266.45 727.95 L266.7 725.02 L266.95 722.11 L267.2 719.41 L267.45 717.16 L267.7 715.6 L267.95 714.92 L268.2 715.13 L268.45 716.02 L268.7 717.51 L268.95 719.46 L269.2 721.74 L269.45 724.18 L269.7 726.68 L269.95 729.11 L270.2 731.39 L270.45 733.47 L270.7 735.3 L270.95 736.88 L271.2 738.19 L271.45 739.27 L271.7 740.13 L271.95 740.8 L272.2 741.32 L272.45 741.71 L272.7 742 L272.95 742.22 L273.2 742.39 L273.45 742.51 L273.7 742.6 L273.95 742.68 L274.2 742.74 L274.45 742.79 L274.7 742.83 L274.95 742.86 L275.2 742.89 L275.7 742.95 L276.2 742.99 L276.7 743.03 L277.2 743.06 L277.95 743.09 L278.7 743.13 L279.7 743.16 L281.2 743.19 L284.7 743.16 L284.95 743.13 L285.2 743.09 L285.45 743.05 L285.7 742.98 L285.95 742.9 L286.2 742.8 L286.45 742.67 L286.7 742.52 L286.95 742.34 L287.2 742.13 L287.45 741.89 L287.7 741.63 L287.95 741.34 L288.2 741.05 L288.45 740.74 L288.7 740.45 L288.95 740.16 L289.2 739.91 L289.45 739.7 L289.7 739.53 L289.95 739.43 L290.2 739.4 L290.45 739.42 L290.7 739.47 L290.95 739.55 L291.2 739.66 L291.45 739.8 L291.7 739.96 L291.95 740.14 L292.2 740.33 L292.45 740.53 L292.7 740.74 L292.95 740.95 L293.2 741.16 L293.45 741.37 L293.7 741.57 L293.95 741.76 L294.2 741.94 L294.45 742.11 L294.7 742.27 L294.95 742.41 L295.2 742.54 L295.45 742.65 L295.7 742.75 L295.95 742.84 L296.2 742.92 L296.45 742.98 L296.7 743.04 L296.95 743.09 L297.2 743.13 L297.45 743.16 L297.95 743.21 L298.45 743.25 L299.2 743.28 L300.95 743.31 L307.2 743.34 L309.45 743.3 L309.95 743.26 L310.2 743.24 L310.45 743.2 L310.7 743.16 L310.95 743.12 L311.2 743.06 L311.45 743 L311.7 742.92 L311.95 742.85 L312.2 742.76 L312.45 742.67 L312.7 742.58 L312.95 742.49 L313.2 742.41 L313.45 742.34 L313.7 742.28 L313.95 742.23 L314.45 742.2 L315.2 742.25 L315.45 742.29 L315.7 742.33 L315.95 742.38 L316.2 742.43 L316.45 742.49 L316.7 742.55 L316.95 742.61 L317.2 742.67 L317.45 742.74 L317.7 742.8 L317.95 742.86 L318.2 742.91 L318.45 742.97 L318.7 743.01 L318.95 743.06 L319.2 743.1 L319.45 743.14 L319.7 743.17 L320.2 743.23 L320.7 743.27 L321.2 743.3 L322.2 743.34 L325.7 743.37 L331.95 743.37 L338.2 743.38 L344.45 743.38 L350.7 743.38 L356.95 743.39 L363.2 743.39 L369.45 743.39 L375.7 743.39 L381.95 743.39 L386.2 743.39" fill="none" stroke="#2f7484" stroke-width="1.6" stroke-linejoin="round"/><text x="221.2" y="732.5" font-size="22" text-anchor="middle" style="fill:#111;stroke:#111;stroke-width:0.45px">*</text><text transform="translate(226.4 715.5) rotate(-90)" font-size="13" letter-spacing="-1.9" style="fill:#111;stroke:#111;stroke-width:0.7px">(2)</text></g>
<g><path d="M86.9 757.3 V876.7 H385.2" fill="none" stroke="#1c1c1c" stroke-width="1.6" stroke-linejoin="miter"/><text transform="translate(74.5 877.8) scale(1.0288 1)" font-size="15.2" text-anchor="end">0</text><text transform="translate(74.5 834.65) scale(1.0288 1)" font-size="15.2" text-anchor="end">20</text><text transform="translate(74.5 791.5) scale(1.0288 1)" font-size="15.2" text-anchor="end">40</text><path d="M79.2 870.8H86.9M82.9 860.01H86.9M82.9 849.22H86.9M82.9 838.44H86.9M79.2 827.65H86.9M82.9 816.86H86.9M82.9 806.07H86.9M82.9 795.29H86.9M79.2 784.5H86.9M82.9 773.71H86.9M82.9 762.92H86.9" stroke="#1c1c1c" stroke-width="1.5" fill="none"/><text transform="translate(37.7 813.4) rotate(-90) scale(1.0639 1)" font-size="15.3" text-anchor="middle">EU</text><text transform="translate(100.5 787.6) scale(1.0190 1)" font-size="21.1">F</text><path d="M87.2 870.79 L91.2 870.75 L91.95 870.72 L92.45 870.68 L92.95 870.63 L93.2 870.6 L93.45 870.57 L93.7 870.53 L93.95 870.49 L94.2 870.45 L94.45 870.4 L94.7 870.36 L94.95 870.31 L95.2 870.26 L95.45 870.22 L95.7 870.17 L95.95 870.13 L96.2 870.1 L96.45 870.06 L96.95 870.02 L98.45 870.05 L98.7 870.08 L98.95 870.12 L99.2 870.16 L99.45 870.2 L99.7 870.25 L99.95 870.29 L100.2 870.34 L100.45 870.39 L100.7 870.43 L100.95 870.47 L101.2 870.51 L101.45 870.55 L101.7 870.59 L101.95 870.62 L102.45 870.67 L102.95 870.71 L103.7 870.75 L105.2 870.78 L111.45 870.79 L117.7 870.78 L123.95 870.78 L130.2 870.78 L136.45 870.78 L142.7 870.77 L148.95 870.76 L155.2 870.76 L158.45 870.72 L159.2 870.68 L159.7 870.63 L159.95 870.6 L160.2 870.57 L160.45 870.53 L160.7 870.49 L160.95 870.45 L161.2 870.42 L161.45 870.38 L161.7 870.35 L162.2 870.31 L163.45 870.36 L163.7 870.39 L163.95 870.43 L164.2 870.47 L164.45 870.51 L164.7 870.54 L164.95 870.58 L165.2 870.61 L165.7 870.65 L166.2 870.69 L167.7 870.72 L173.2 870.68 L175.95 870.65 L177.2 870.61 L177.7 870.57 L177.95 870.53 L178.2 870.49 L178.45 870.43 L178.7 870.37 L178.95 870.29 L179.2 870.21 L179.45 870.12 L179.7 870.05 L179.95 869.98 L180.2 869.93 L180.7 869.9 L180.95 869.92 L181.2 869.95 L181.45 869.99 L181.7 870.04 L181.95 870.07 L182.45 870.06 L182.7 869.99 L182.95 869.84 L183.2 869.6 L183.45 869.24 L183.7 868.74 L183.95 868.08 L184.2 867.23 L184.45 866.19 L184.7 864.97 L184.95 863.6 L185.2 862.14 L185.45 860.67 L185.7 859.28 L185.95 858.09 L186.2 857.19 L186.45 856.69 L186.7 856.63 L186.95 856.98 L187.2 857.7 L187.45 858.72 L187.7 859.94 L187.95 861.28 L188.2 862.66 L188.45 863.99 L188.7 865.21 L188.95 866.3 L189.2 867.22 L189.45 867.97 L189.7 868.57 L189.95 869.02 L190.2 869.35 L190.45 869.58 L190.7 869.74 L190.95 869.84 L191.2 869.9 L191.7 869.93 L192.45 869.87 L192.7 869.84 L192.95 869.79 L193.2 869.74 L193.45 869.69 L193.7 869.63 L193.95 869.56 L194.2 869.48 L194.45 869.39 L194.7 869.29 L194.95 869.17 L195.2 869.04 L195.45 868.89 L195.7 868.7 L195.95 868.47 L196.2 868.17 L196.45 867.76 L196.7 867.18 L196.95 866.34 L197.2 865.11 L197.45 863.32 L197.7 860.74 L197.95 857.14 L198.2 852.24 L198.45 845.84 L198.7 837.79 L198.95 828.12 L199.2 817.05 L199.45 805.05 L199.7 792.85 L199.95 781.44 L200.2 771.97 L200.45 765.63 L200.7 763.4 L200.95 765.25 L201.2 770.54 L201.45 778.61 L201.7 788.55 L201.95 799.47 L202.2 810.57 L202.45 821.2 L202.7 830.9 L202.95 839.37 L203.2 846.48 L203.45 852.23 L203.7 856.74 L203.95 860.16 L204.2 862.69 L204.45 864.51 L204.7 865.82 L204.95 866.74 L205.2 867.39 L205.45 867.86 L205.7 868.2 L205.95 868.47 L206.2 868.67 L206.45 868.84 L206.7 868.99 L206.95 869.11 L207.2 869.22 L207.45 869.31 L207.7 869.4 L207.95 869.48 L208.2 869.55 L208.45 869.61 L208.7 869.67 L208.95 869.72 L209.2 869.76 L209.45 869.81 L209.7 869.84 L209.95 869.88 L210.2 869.91 L210.7 869.96 L211.2 870.01 L211.7 870.04 L212.45 870.08 L214.45 870.05 L214.7 870.02 L214.95 869.96 L215.2 869.87 L215.45 869.73 L215.7 869.53 L215.95 869.24 L216.2 868.84 L216.45 868.3 L216.7 867.6 L216.95 866.72 L217.2 865.66 L217.45 864.43 L217.7 863.05 L217.95 861.59 L218.2 860.11 L218.45 858.7 L218.7 857.47 L218.95 856.53 L219.2 855.95 L219.45 855.81 L219.7 856.11 L219.95 856.82 L220.2 857.86 L220.45 859.15 L220.7 860.56 L220.95 862 L221.2 863.37 L221.45 864.61 L221.7 865.66 L221.95 866.49 L222.2 867.11 L222.45 867.54 L222.7 867.82 L222.95 868 L223.2 868.15 L223.45 868.28 L223.7 868.43 L223.95 868.57 L224.2 868.68 L224.45 868.74 L224.7 868.72 L224.95 868.61 L225.2 868.43 L225.45 868.19 L225.7 867.95 L225.95 867.74 L226.2 867.6 L226.45 867.54 L226.7 867.54 L226.95 867.57 L227.45 867.58 L227.7 867.48 L227.95 867.24 L228.2 866.83 L228.45 866.16 L228.7 865.16 L228.95 863.69 L229.2 861.62 L229.45 858.76 L229.7 854.92 L229.95 849.93 L230.2 843.63 L230.45 835.95 L230.7 826.95 L230.95 816.81 L231.2 805.89 L231.45 794.75 L231.7 784.09 L231.95 774.76 L232.2 767.68 L232.45 763.68 L232.7 763.24 L232.95 766 L233.2 771.51 L233.45 779.2 L233.7 788.37 L233.95 798.32 L234.2 808.43 L234.45 818.17 L234.7 827.09 L234.95 834.89 L235.2 841.32 L235.45 846.25 L235.7 849.56 L235.95 851.26 L236.2 851.36 L236.45 850.03 L236.7 847.51 L236.95 844.21 L237.2 840.63 L237.45 837.38 L237.7 835.06 L237.95 834.18 L238.2 834.72 L238.45 836.13 L238.7 838.3 L238.95 841.07 L239.2 844.24 L239.45 847.62 L239.7 851 L239.95 854.25 L240.2 857.23 L240.45 859.87 L240.7 862.12 L240.95 863.98 L241.2 865.48 L241.45 866.64 L241.7 867.53 L241.95 868.19 L242.2 868.67 L242.45 869.02 L242.7 869.27 L242.95 869.45 L243.2 869.58 L243.45 869.68 L243.7 869.76 L243.95 869.82 L244.2 869.87 L244.45 869.91 L244.7 869.95 L244.95 869.99 L245.2 870.02 L245.7 870.08 L246.2 870.12 L246.7 870.16 L247.45 870.19 L248.45 870.15 L248.7 870.11 L248.95 870.06 L249.2 870 L249.45 869.93 L249.7 869.85 L249.95 869.75 L250.2 869.66 L250.45 869.56 L250.7 869.48 L250.95 869.4 L251.2 869.34 L251.45 869.3 L252.95 869.3 L253.2 869.26 L253.45 869.18 L253.7 869.06 L253.95 868.89 L254.2 868.67 L254.45 868.41 L254.7 868.1 L254.95 867.76 L255.2 867.41 L255.45 867.04 L255.7 866.68 L255.95 866.34 L256.2 866.04 L256.45 865.79 L256.7 865.61 L256.95 865.52 L257.2 865.51 L257.45 865.58 L257.7 865.74 L257.95 865.96 L258.2 866.25 L258.45 866.58 L258.7 866.94 L258.95 867.31 L259.2 867.68 L259.45 868.04 L259.7 868.38 L259.95 868.68 L260.2 868.95 L260.45 869.19 L260.7 869.38 L260.95 869.54 L261.2 869.66 L261.45 869.75 L261.7 869.81 L261.95 869.84 L262.45 869.83 L262.7 869.77 L262.95 869.69 L263.2 869.55 L263.45 869.34 L263.7 869.04 L263.95 868.6 L264.2 867.99 L264.45 867.15 L264.7 866.02 L264.95 864.55 L265.2 862.69 L265.45 860.42 L265.7 857.77 L265.95 854.77 L266.2 851.55 L266.45 848.26 L266.7 845.11 L266.95 842.36 L267.2 840.27 L267.45 839.1 L267.7 838.96 L267.95 839.67 L268.2 841.08 L268.45 843.08 L268.7 845.5 L268.95 848.18 L269.2 850.97 L269.45 853.73 L269.7 856.36 L269.95 858.79 L270.2 860.95 L270.45 862.83 L270.7 864.42 L270.95 865.73 L271.2 866.78 L271.45 867.61 L271.7 868.26 L271.95 868.75 L272.2 869.12 L272.45 869.39 L272.7 869.6 L272.95 869.75 L273.2 869.87 L273.45 869.96 L273.7 870.03 L273.95 870.09 L274.2 870.14 L274.45 870.18 L274.7 870.22 L274.95 870.25 L275.45 870.31 L275.95 870.35 L276.45 870.39 L276.95 870.42 L277.7 870.46 L278.45 870.5 L279.45 870.53 L280.95 870.56 L283.95 870.52 L284.2 870.49 L284.45 870.46 L284.7 870.41 L284.95 870.34 L285.2 870.25 L285.45 870.13 L285.7 869.98 L285.95 869.8 L286.2 869.57 L286.45 869.31 L286.7 869 L286.95 868.64 L287.2 868.25 L287.45 867.82 L287.7 867.36 L287.95 866.89 L288.2 866.42 L288.45 865.97 L288.7 865.55 L288.95 865.19 L289.2 864.9 L289.45 864.7 L289.7 864.61 L289.95 864.61 L290.2 864.67 L290.45 864.78 L290.7 864.93 L290.95 865.13 L291.2 865.37 L291.45 865.63 L291.7 865.92 L291.95 866.23 L292.2 866.56 L292.45 866.89 L292.7 867.22 L292.95 867.54 L293.2 867.86 L293.45 868.16 L293.7 868.45 L293.95 868.72 L294.2 868.97 L294.45 869.2 L294.7 869.4 L294.95 869.59 L295.2 869.76 L295.45 869.9 L295.7 870.03 L295.95 870.14 L296.2 870.23 L296.45 870.31 L296.7 870.38 L296.95 870.44 L297.2 870.48 L297.45 870.52 L297.7 870.56 L298.2 870.6 L298.7 870.63 L299.7 870.67 L302.2 870.7 L308.45 870.69 L308.95 870.65 L309.2 870.63 L309.45 870.6 L309.7 870.56 L309.95 870.51 L310.2 870.45 L310.45 870.38 L310.7 870.29 L310.95 870.19 L311.2 870.07 L311.45 869.94 L311.7 869.8 L311.95 869.66 L312.2 869.51 L312.45 869.36 L312.7 869.21 L312.95 869.08 L313.2 868.97 L313.45 868.88 L313.7 868.83 L314.45 868.82 L314.7 868.85 L314.95 868.9 L315.2 868.96 L315.45 869.02 L315.7 869.09 L315.95 869.16 L316.2 869.24 L316.45 869.31 L316.7 869.37 L316.95 869.42 L317.2 869.46 L317.7 869.51 L318.45 869.46 L318.7 869.42 L318.95 869.38 L319.2 869.33 L319.45 869.28 L319.7 869.24 L319.95 869.2 L320.7 869.21 L320.95 869.24 L321.2 869.29 L321.45 869.34 L321.7 869.41 L321.95 869.48 L322.2 869.55 L322.45 869.64 L322.7 869.72 L322.95 869.81 L323.2 869.9 L323.45 869.98 L323.7 870.06 L323.95 870.14 L324.2 870.22 L324.45 870.29 L324.7 870.35 L324.95 870.41 L325.2 870.46 L325.45 870.51 L325.7 870.55 L325.95 870.58 L326.2 870.61 L326.7 870.66 L327.2 870.69 L327.95 870.72 L330.2 870.75 L336.45 870.77 L342.7 870.78 L348.95 870.78 L355.2 870.78 L361.45 870.79 L367.7 870.79 L373.95 870.79 L380.2 870.79 L386.2 870.79" fill="none" stroke="#2f7484" stroke-width="1.6" stroke-linejoin="round"/><text x="221.2" y="862.8" font-size="22" text-anchor="middle" style="fill:#111;stroke:#111;stroke-width:0.45px">*</text><text transform="translate(226.4 845.8) rotate(-90)" font-size="13" letter-spacing="-1.9" style="fill:#111;stroke:#111;stroke-width:0.7px">(2)</text></g>
<path d="M87 876.6V884M101.93 876.6V880.3M116.86 876.6V880.3M131.79 876.6V880.3M146.72 876.6V880.3M161.65 876.6V884M176.58 876.6V880.3M191.51 876.6V880.3M206.44 876.6V880.3M221.37 876.6V880.3M236.3 876.6V884M251.23 876.6V880.3M266.16 876.6V880.3M281.09 876.6V880.3M296.02 876.6V880.3M310.95 876.6V884M325.88 876.6V880.3M340.81 876.6V880.3M355.74 876.6V880.3M370.67 876.6V880.3M385.6 876.6V884" stroke="#1c1c1c" stroke-width="1.5" fill="none"/><text transform="translate(87.3 904.9) scale(1.0340 1)" font-size="15.2" text-anchor="middle">1</text><text transform="translate(161.95 904.9) scale(1.0340 1)" font-size="15.2" text-anchor="middle">2</text><text transform="translate(236.6 904.9) scale(1.0340 1)" font-size="15.2" text-anchor="middle">3</text><text transform="translate(311.25 904.9) scale(1.0340 1)" font-size="15.2" text-anchor="middle">4</text><text transform="translate(385.9 904.9) scale(1.0340 1)" font-size="15.2" text-anchor="middle">5</text><text transform="translate(234 932.2) scale(1.0381 1)" font-size="14.9" text-anchor="middle">Retention time (min)</text>
<g><path d="M526 120.45 V241.4 H797.8" fill="none" stroke="#1c1c1c" stroke-width="1.6"/><text transform="translate(513 247.4) scale(0.9733 1)" font-size="15.6" text-anchor="end">0</text><text transform="translate(513 202.13) scale(0.9733 1)" font-size="15.6" text-anchor="end">100000</text><text transform="translate(513 156.86) scale(0.9733 1)" font-size="15.6" text-anchor="end">200000</text><path d="M517.6 238.8H526M521.4 229.75H526M521.4 220.69H526M521.4 211.64H526M521.4 202.58H526M517.6 193.53H526M521.4 184.48H526M521.4 175.42H526M521.4 166.37H526M521.4 157.32H526M517.6 148.26H526M521.4 139.21H526M521.4 130.15H526M521.4 121.1H526" stroke="#1c1c1c" stroke-width="1.3" fill="none"/><text transform="translate(435.3 175.7) rotate(-90) scale(1.0176 1)" font-size="17.7" text-anchor="middle">Intensity</text><text transform="translate(746.2 151.75) scale(1.0190 1)" font-size="21">A<tspan dy="5.9" dx="1.0" font-size="14.3">M5</tspan></text><path d="M530.6 193H635.7" stroke="#8c8c8c" stroke-width="1.4" stroke-dasharray="7.5 4.7" fill="none"/><path d="M526.2 237.4 L532.45 237.4 L538.7 237.4 L544.95 237.4 L551.2 237.4 L557.45 237.4 L563.7 237.4 L569.95 237.4 L576.2 237.4 L582.45 237.4 L588.7 237.4 L594.95 237.39 L601.2 237.39 L607.45 237.39 L613.7 237.39 L619.95 237.38 L626.2 237.36 L631.45 237.33 L633.95 237.3 L635.45 237.27 L636.45 237.24 L637.45 237.2 L638.2 237.15 L638.7 237.12 L639.2 237.07 L639.45 237.05 L639.7 237.02 L639.95 236.98 L640.2 236.94 L640.45 236.9 L640.7 236.84 L640.95 236.77 L641.2 236.68 L641.45 236.56 L641.7 236.37 L641.95 236.08 L642.2 235.64 L642.45 234.94 L642.7 233.89 L642.95 232.35 L643.2 230.19 L643.45 227.29 L643.7 223.62 L643.95 219.22 L644.2 214.29 L644.45 209.17 L644.7 204.34 L644.95 200.37 L645.2 197.85 L645.45 197.24 L645.7 198.46 L645.95 201.24 L646.2 205.16 L646.45 209.73 L646.7 214.51 L646.95 219.09 L647.2 223.22 L647.45 226.74 L647.7 229.58 L647.95 231.77 L648.2 233.38 L648.45 234.53 L648.7 235.32 L648.95 235.85 L649.2 236.2 L649.45 236.43 L649.7 236.59 L649.95 236.7 L650.2 236.78 L650.45 236.84 L650.7 236.89 L650.95 236.94 L651.2 236.97 L651.45 237.01 L651.95 237.06 L652.45 237.11 L652.95 237.14 L653.45 237.17 L654.2 237.21 L655.2 237.24 L656.45 237.28 L658.2 237.31 L661.2 237.34 L667.45 237.37 L673.7 237.38 L675.2 237.33 L675.7 237.29 L675.95 237.26 L676.2 237.23 L676.45 237.19 L676.7 237.16 L677.2 237.11 L678.7 237.14 L679.2 237.19 L679.7 237.23 L680.2 237.27 L680.7 237.31 L681.45 237.35 L682.7 237.38 L688.95 237.39 L695.2 237.39 L701.45 237.4 L707.2 237.36 L708.2 237.33 L712.45 237.36 L714.7 237.39 L720.95 237.4 L727.2 237.4 L733.45 237.4 L739.7 237.4 L745.95 237.4 L752.2 237.4 L758.45 237.4 L764.7 237.4 L770.95 237.4 L777.2 237.4 L783.45 237.4 L789.7 237.4 L795.95 237.4 L797.7 237.4" fill="none" stroke="#848f3e" stroke-width="1.4" stroke-linejoin="round"/></g>
<g><path d="M526 247.75 V368.3 H797.8" fill="none" stroke="#1c1c1c" stroke-width="1.6"/><text transform="translate(513 374.4) scale(0.9733 1)" font-size="15.6" text-anchor="end">0</text><text transform="translate(513 329.25) scale(0.9733 1)" font-size="15.6" text-anchor="end">100000</text><text transform="translate(513 284.09) scale(0.9733 1)" font-size="15.6" text-anchor="end">200000</text><path d="M517.6 365.8H526M521.4 356.77H526M521.4 347.74H526M521.4 338.71H526M521.4 329.68H526M517.6 320.65H526M521.4 311.62H526M521.4 302.58H526M521.4 293.55H526M521.4 284.52H526M517.6 275.49H526M521.4 266.46H526M521.4 257.43H526M521.4 248.4H526" stroke="#1c1c1c" stroke-width="1.3" fill="none"/><text transform="translate(435.3 303.05) rotate(-90) scale(1.0176 1)" font-size="17.7" text-anchor="middle">Intensity</text><text transform="translate(746.2 278.91) scale(1.0190 1)" font-size="21">B<tspan dy="5.9" dx="1.0" font-size="14.3">M5</tspan></text><path d="M528.5 320.5H633.6" stroke="#8c8c8c" stroke-width="1.4" stroke-dasharray="7.5 4.7" fill="none"/><path d="M526.2 364.1 L532.45 364.1 L538.7 364.1 L544.95 364.1 L551.2 364.1 L557.45 364.1 L563.7 364.1 L569.95 364.1 L576.2 364.1 L582.45 364.1 L588.7 364.09 L594.95 364.09 L601.2 364.09 L607.45 364.09 L613.7 364.08 L619.95 364.07 L626.2 364.05 L630.2 364.02 L632.45 363.98 L633.95 363.95 L634.95 363.91 L635.7 363.88 L636.45 363.84 L636.95 363.8 L637.45 363.76 L637.95 363.7 L638.2 363.67 L638.45 363.63 L638.7 363.59 L638.95 363.55 L639.2 363.49 L639.45 363.43 L639.7 363.34 L639.95 363.24 L640.2 363.09 L640.45 362.88 L640.7 362.56 L640.95 362.05 L641.2 361.27 L641.45 360.07 L641.7 358.31 L641.95 355.81 L642.2 352.42 L642.45 348.08 L642.7 342.82 L642.95 336.84 L643.2 330.53 L643.45 324.44 L643.7 319.27 L643.95 315.75 L644.2 314.5 L644.45 315.59 L644.7 318.67 L644.95 323.27 L645.2 328.8 L645.45 334.68 L645.7 340.42 L645.95 345.65 L646.2 350.15 L646.45 353.82 L646.7 356.67 L646.95 358.8 L647.2 360.32 L647.45 361.37 L647.7 362.08 L647.95 362.54 L648.2 362.85 L648.45 363.06 L648.7 363.21 L648.95 363.32 L649.2 363.4 L649.45 363.46 L649.7 363.52 L649.95 363.57 L650.2 363.61 L650.45 363.64 L650.7 363.68 L651.2 363.73 L651.7 363.78 L652.2 363.82 L652.7 363.85 L653.45 363.89 L654.2 363.92 L655.2 363.95 L656.7 363.98 L658.7 364.01 L662.2 364.04 L668.45 364.07 L674.7 364.04 L675.2 364 L675.45 363.96 L675.7 363.92 L675.95 363.87 L676.2 363.82 L676.45 363.76 L676.7 363.71 L676.95 363.66 L677.2 363.62 L678.7 363.67 L678.95 363.71 L679.2 363.74 L679.45 363.78 L679.7 363.82 L679.95 363.86 L680.2 363.89 L680.45 363.93 L680.95 363.98 L681.45 364.02 L682.2 364.06 L688.45 364.09 L694.7 364.09 L700.95 364.09 L707.2 364.06 L708.2 364.03 L712.45 364.06 L714.7 364.09 L720.95 364.1 L727.2 364.1 L733.45 364.1 L739.7 364.1 L745.95 364.1 L752.2 364.1 L758.45 364.1 L764.7 364.1 L770.95 364.1 L777.2 364.1 L783.45 364.1 L789.7 364.1 L795.95 364.1 L797.7 364.1" fill="none" stroke="#848f3e" stroke-width="1.4" stroke-linejoin="round"/></g>
<g><path d="M526 375.05 V495.9 H797.8" fill="none" stroke="#1c1c1c" stroke-width="1.6"/><text transform="translate(513 501.2) scale(0.9733 1)" font-size="15.6" text-anchor="end">0</text><text transform="translate(513 456.24) scale(0.9733 1)" font-size="15.6" text-anchor="end">100000</text><text transform="translate(513 411.28) scale(0.9733 1)" font-size="15.6" text-anchor="end">200000</text><path d="M517.6 492.6H526M521.4 483.61H526M521.4 474.62H526M521.4 465.62H526M521.4 456.63H526M517.6 447.64H526M521.4 438.65H526M521.4 429.65H526M521.4 420.66H526M521.4 411.67H526M517.6 402.68H526M521.4 393.68H526M521.4 384.69H526M521.4 375.7H526" stroke="#1c1c1c" stroke-width="1.3" fill="none"/><text transform="translate(435.3 430.4) rotate(-90) scale(1.0176 1)" font-size="17.7" text-anchor="middle">Intensity</text><text transform="translate(746.2 406.07) scale(1.0190 1)" font-size="21">C<tspan dy="5.9" dx="1.0" font-size="14.3">M5</tspan></text><path d="M528.5 447.6H633.6" stroke="#8c8c8c" stroke-width="1.4" stroke-dasharray="7.5 4.7" fill="none"/><path d="M526.2 490.7 L532.45 490.7 L538.7 490.7 L544.95 490.7 L551.2 490.7 L557.45 490.7 L563.7 490.7 L569.95 490.7 L576.2 490.7 L582.45 490.69 L588.7 490.69 L594.95 490.69 L601.2 490.69 L607.45 490.69 L613.7 490.68 L619.95 490.67 L626.2 490.64 L629.95 490.61 L631.95 490.58 L633.45 490.54 L634.45 490.51 L635.45 490.47 L636.2 490.43 L636.7 490.4 L637.2 490.36 L637.7 490.31 L637.95 490.28 L638.2 490.25 L638.45 490.21 L638.7 490.17 L638.95 490.13 L639.2 490.08 L639.45 490.02 L639.7 489.95 L639.95 489.87 L640.2 489.78 L640.45 489.65 L640.7 489.47 L640.95 489.21 L641.2 488.81 L641.45 488.2 L641.7 487.24 L641.95 485.77 L642.2 483.61 L642.45 480.55 L642.7 476.41 L642.95 471.09 L643.2 464.66 L643.45 457.34 L643.7 449.62 L643.95 442.16 L644.2 435.83 L644.45 431.53 L644.7 430 L644.95 431.33 L645.2 435.1 L645.45 440.73 L645.7 447.5 L645.95 454.7 L646.2 461.72 L646.45 468.12 L646.7 473.62 L646.95 478.11 L647.2 481.61 L647.45 484.21 L647.7 486.07 L647.95 487.36 L648.2 488.22 L648.45 488.8 L648.7 489.18 L648.95 489.43 L649.2 489.61 L649.45 489.74 L649.7 489.84 L649.95 489.92 L650.2 489.99 L650.45 490.05 L650.7 490.1 L650.95 490.14 L651.2 490.18 L651.45 490.22 L651.7 490.25 L652.2 490.31 L652.7 490.35 L653.2 490.39 L653.7 490.42 L654.45 490.46 L655.2 490.5 L656.2 490.53 L657.45 490.56 L659.2 490.59 L661.95 490.62 L666.95 490.65 L673.2 490.67 L674.45 490.63 L674.7 490.61 L674.95 490.57 L675.2 490.53 L675.45 490.46 L675.7 490.39 L675.95 490.3 L676.2 490.2 L676.45 490.09 L676.7 489.99 L676.95 489.91 L677.2 489.84 L677.45 489.81 L678.2 489.84 L678.45 489.88 L678.7 489.94 L678.95 490 L679.2 490.06 L679.45 490.13 L679.7 490.2 L679.95 490.27 L680.2 490.33 L680.45 490.39 L680.7 490.45 L680.95 490.49 L681.2 490.53 L681.45 490.57 L681.95 490.62 L682.45 490.65 L683.7 490.68 L689.95 490.69 L696.2 490.69 L702.45 490.69 L706.7 490.66 L707.45 490.61 L707.95 490.57 L708.45 490.54 L709.2 490.5 L710.7 490.53 L711.45 490.57 L712.2 490.61 L712.95 490.65 L714.2 490.68 L720.45 490.7 L726.7 490.7 L732.95 490.7 L739.2 490.7 L745.45 490.7 L751.7 490.7 L757.95 490.7 L764.2 490.7 L770.45 490.7 L776.7 490.7 L782.95 490.7 L789.2 490.7 L795.45 490.7 L797.7 490.7" fill="none" stroke="#848f3e" stroke-width="1.4" stroke-linejoin="round"/></g>
<g><path d="M526 502.45 V622.5 H797.8" fill="none" stroke="#1c1c1c" stroke-width="1.6"/><text transform="translate(513 627.35) scale(0.9733 1)" font-size="15.6" text-anchor="end">0</text><text transform="translate(513 582.87) scale(0.9733 1)" font-size="15.6" text-anchor="end">100000</text><text transform="translate(513 538.39) scale(0.9733 1)" font-size="15.6" text-anchor="end">200000</text><path d="M517.6 618.75H526M521.4 609.85H526M521.4 600.96H526M521.4 592.06H526M521.4 583.17H526M517.6 574.27H526M521.4 565.37H526M521.4 556.48H526M521.4 547.58H526M521.4 538.68H526M517.6 529.79H526M521.4 520.89H526M521.4 512H526M521.4 503.1H526" stroke="#1c1c1c" stroke-width="1.3" fill="none"/><text transform="translate(435.3 557.75) rotate(-90) scale(1.0176 1)" font-size="17.7" text-anchor="middle">Intensity</text><text transform="translate(746.2 533.23) scale(1.0190 1)" font-size="21">D<tspan dy="5.9" dx="-0.6" font-size="14.3">M5</tspan></text><path d="M528.9 574.2H634" stroke="#8c8c8c" stroke-width="1.4" stroke-dasharray="7.5 4.7" fill="none"/><path d="M526.2 617.35 L532.45 617.35 L538.7 617.35 L544.95 617.35 L551.2 617.35 L557.45 617.35 L563.7 617.35 L569.95 617.35 L576.2 617.34 L582.45 617.34 L588.7 617.34 L594.95 617.34 L601.2 617.34 L607.45 617.33 L613.7 617.32 L619.95 617.31 L625.7 617.28 L628.7 617.24 L630.7 617.21 L632.2 617.17 L633.2 617.14 L633.95 617.11 L634.7 617.07 L635.2 617.04 L635.7 617 L636.2 616.96 L636.7 616.91 L636.95 616.88 L637.2 616.84 L637.45 616.81 L637.7 616.77 L637.95 616.72 L638.2 616.67 L638.45 616.61 L638.7 616.55 L638.95 616.47 L639.2 616.38 L639.45 616.28 L639.7 616.15 L639.95 615.99 L640.2 615.76 L640.45 615.42 L640.7 614.91 L640.95 614.11 L641.2 612.87 L641.45 610.97 L641.7 608.18 L641.95 604.22 L642.2 598.86 L642.45 591.98 L642.7 583.65 L642.95 574.18 L643.2 564.19 L643.45 554.54 L643.7 546.35 L643.95 540.78 L644.2 538.8 L644.45 540.52 L644.7 545.4 L644.95 552.69 L645.2 561.45 L645.45 570.76 L645.7 579.84 L645.95 588.13 L646.2 595.25 L646.45 601.06 L646.7 605.59 L646.95 608.95 L647.2 611.36 L647.45 613.02 L647.7 614.14 L647.95 614.89 L648.2 615.38 L648.45 615.71 L648.7 615.94 L648.95 616.11 L649.2 616.24 L649.45 616.34 L649.7 616.43 L649.95 616.5 L650.2 616.57 L650.45 616.63 L650.7 616.68 L650.95 616.73 L651.2 616.77 L651.45 616.81 L651.7 616.84 L651.95 616.87 L652.45 616.93 L652.95 616.97 L653.45 617.01 L653.95 617.04 L654.7 617.09 L655.45 617.12 L656.45 617.15 L657.7 617.19 L659.2 617.22 L661.45 617.25 L664.95 617.28 L671.2 617.31 L674.45 617.26 L674.7 617.23 L674.95 617.18 L675.2 617.12 L675.45 617.04 L675.7 616.93 L675.95 616.81 L676.2 616.68 L676.45 616.54 L676.7 616.41 L676.95 616.29 L677.2 616.21 L677.45 616.16 L677.95 616.17 L678.2 616.21 L678.45 616.26 L678.7 616.33 L678.95 616.41 L679.2 616.5 L679.45 616.59 L679.7 616.68 L679.95 616.78 L680.2 616.86 L680.45 616.94 L680.7 617.01 L680.95 617.08 L681.2 617.13 L681.45 617.17 L681.7 617.21 L682.2 617.26 L682.7 617.3 L684.2 617.33 L690.45 617.34 L696.7 617.34 L702.95 617.34 L706.45 617.3 L706.95 617.27 L707.45 617.22 L707.95 617.16 L708.45 617.1 L708.95 617.06 L710.7 617.1 L711.2 617.14 L711.7 617.18 L712.2 617.22 L712.7 617.26 L713.45 617.3 L714.45 617.33 L720.7 617.34 L726.95 617.35 L733.2 617.35 L739.45 617.35 L745.7 617.35 L751.95 617.35 L758.2 617.35 L764.45 617.35 L770.7 617.35 L776.95 617.35 L783.2 617.35 L789.45 617.35 L795.7 617.35 L797.7 617.35" fill="none" stroke="#848f3e" stroke-width="1.4" stroke-linejoin="round"/></g>
<g><path d="M526 629.75 V750.2 H797.8" fill="none" stroke="#1c1c1c" stroke-width="1.6"/><text transform="translate(513 753.9) scale(0.9733 1)" font-size="15.6" text-anchor="end">0</text><text transform="translate(513 709.71) scale(0.9733 1)" font-size="15.6" text-anchor="end">100000</text><text transform="translate(513 665.52) scale(0.9733 1)" font-size="15.6" text-anchor="end">200000</text><path d="M517.6 745.3H526M521.4 736.46H526M521.4 727.62H526M521.4 718.78H526M521.4 709.95H526M517.6 701.11H526M521.4 692.27H526M521.4 683.43H526M521.4 674.59H526M521.4 665.75H526M517.6 656.92H526M521.4 648.08H526M521.4 639.24H526M521.4 630.4H526" stroke="#1c1c1c" stroke-width="1.3" fill="none"/><text transform="translate(435.3 685.1) rotate(-90) scale(1.0176 1)" font-size="17.7" text-anchor="middle">Intensity</text><text transform="translate(746.2 660.39) scale(1.0190 1)" font-size="21">E<tspan dy="5.9" dx="1.0" font-size="14.3">M5</tspan></text><path d="M528.9 700.4H634" stroke="#8c8c8c" stroke-width="1.4" stroke-dasharray="7.5 4.7" fill="none"/><path d="M526.2 744.7 L532.45 744.7 L538.7 744.7 L544.95 744.7 L551.2 744.7 L557.45 744.7 L563.7 744.7 L569.95 744.69 L576.2 744.69 L582.45 744.69 L588.7 744.69 L594.95 744.69 L601.2 744.68 L607.45 744.68 L613.7 744.67 L619.95 744.65 L624.7 744.62 L627.45 744.58 L629.45 744.55 L630.95 744.51 L631.95 744.48 L632.7 744.45 L633.45 744.42 L634.2 744.37 L634.7 744.33 L635.2 744.29 L635.7 744.24 L635.95 744.21 L636.2 744.18 L636.45 744.14 L636.7 744.11 L636.95 744.06 L637.2 744.02 L637.45 743.96 L637.7 743.91 L637.95 743.84 L638.2 743.77 L638.45 743.68 L638.7 743.58 L638.95 743.47 L639.2 743.33 L639.45 743.15 L639.7 742.91 L639.95 742.56 L640.2 742.04 L640.45 741.24 L640.7 739.98 L640.95 738.05 L641.2 735.16 L641.45 730.99 L641.7 725.24 L641.95 717.71 L642.2 708.36 L642.45 697.45 L642.7 685.57 L642.95 673.65 L643.2 662.92 L643.45 654.8 L643.7 650.59 L643.95 650.95 L644.2 655.38 L644.45 663.12 L644.7 673.09 L644.95 684.15 L645.2 695.29 L645.45 705.71 L645.7 714.87 L645.95 722.5 L646.2 728.55 L646.45 733.13 L646.7 736.45 L646.95 738.78 L647.2 740.37 L647.45 741.42 L647.7 742.12 L647.95 742.58 L648.2 742.9 L648.45 743.13 L648.7 743.3 L648.95 743.44 L649.2 743.55 L649.45 743.65 L649.7 743.73 L649.95 743.8 L650.2 743.87 L650.45 743.93 L650.7 743.98 L650.95 744.03 L651.2 744.07 L651.45 744.11 L651.7 744.15 L651.95 744.18 L652.45 744.24 L652.95 744.28 L653.45 744.32 L653.95 744.36 L654.45 744.39 L655.2 744.43 L655.95 744.46 L656.95 744.5 L658.2 744.53 L659.7 744.56 L661.95 744.59 L665.2 744.62 L671.2 744.65 L673.95 744.62 L674.2 744.59 L674.45 744.54 L674.7 744.47 L674.95 744.37 L675.2 744.23 L675.45 744.05 L675.7 743.82 L675.95 743.56 L676.2 743.26 L676.45 742.96 L676.7 742.67 L676.95 742.41 L677.2 742.22 L677.45 742.12 L677.7 742.1 L677.95 742.14 L678.2 742.22 L678.45 742.34 L678.7 742.49 L678.95 742.67 L679.2 742.86 L679.45 743.06 L679.7 743.27 L679.95 743.47 L680.2 743.66 L680.45 743.83 L680.7 743.98 L680.95 744.12 L681.2 744.24 L681.45 744.34 L681.7 744.42 L681.95 744.48 L682.2 744.53 L682.45 744.57 L682.95 744.63 L683.7 744.66 L689.95 744.68 L696.2 744.69 L702.45 744.69 L705.95 744.65 L706.45 744.61 L706.7 744.58 L706.95 744.54 L707.2 744.49 L707.45 744.44 L707.7 744.38 L707.95 744.32 L708.2 744.26 L708.45 744.21 L708.7 744.16 L708.95 744.13 L710.45 744.17 L710.7 744.2 L710.95 744.24 L711.2 744.28 L711.45 744.32 L711.7 744.36 L711.95 744.4 L712.2 744.44 L712.45 744.48 L712.7 744.52 L712.95 744.55 L713.45 744.6 L713.95 744.63 L714.7 744.67 L720.95 744.69 L727.2 744.69 L733.45 744.7 L739.7 744.7 L745.95 744.7 L752.2 744.7 L758.45 744.7 L764.7 744.7 L770.95 744.7 L777.2 744.7 L783.45 744.7 L789.7 744.7 L795.95 744.7 L797.7 744.7" fill="none" stroke="#848f3e" stroke-width="1.4" stroke-linejoin="round"/></g>
<g><path d="M526 756.85 V877.6 H797.8" fill="none" stroke="#1c1c1c" stroke-width="1.6"/><text transform="translate(513 880.4) scale(0.9733 1)" font-size="15.6" text-anchor="end">0</text><text transform="translate(513 836.44) scale(0.9733 1)" font-size="15.6" text-anchor="end">100000</text><text transform="translate(513 792.48) scale(0.9733 1)" font-size="15.6" text-anchor="end">200000</text><path d="M517.6 871.8H526M521.4 863.01H526M521.4 854.22H526M521.4 845.42H526M521.4 836.63H526M517.6 827.84H526M521.4 819.05H526M521.4 810.25H526M521.4 801.46H526M521.4 792.67H526M517.6 783.88H526M521.4 775.08H526M521.4 766.29H526M521.4 757.5H526" stroke="#1c1c1c" stroke-width="1.3" fill="none"/><text transform="translate(435.3 812.45) rotate(-90) scale(1.0176 1)" font-size="17.7" text-anchor="middle">Intensity</text><text transform="translate(746.2 787.55) scale(1.0190 1)" font-size="21">F<tspan dy="5.9" dx="1.0" font-size="14.3">M5</tspan></text><path d="M528.7 829.3H633.8" stroke="#8c8c8c" stroke-width="1.4" stroke-dasharray="7.5 4.7" fill="none"/><path d="M526.2 871.4 L532.45 871.4 L538.7 871.4 L544.95 871.4 L551.2 871.4 L557.45 871.4 L563.7 871.39 L569.95 871.39 L576.2 871.39 L582.45 871.39 L588.7 871.39 L594.95 871.39 L601.2 871.38 L607.45 871.37 L613.7 871.36 L619.95 871.34 L624.7 871.31 L627.45 871.28 L629.45 871.24 L630.7 871.21 L631.7 871.18 L632.7 871.14 L633.45 871.11 L634.2 871.06 L634.7 871.03 L635.2 870.99 L635.7 870.94 L635.95 870.91 L636.2 870.88 L636.45 870.84 L636.7 870.81 L636.95 870.77 L637.2 870.72 L637.45 870.68 L637.7 870.62 L637.95 870.56 L638.2 870.49 L638.45 870.42 L638.7 870.33 L638.95 870.23 L639.2 870.11 L639.45 869.98 L639.7 869.81 L639.95 869.58 L640.2 869.28 L640.45 868.83 L640.7 868.15 L640.95 867.08 L641.2 865.43 L641.45 862.9 L641.7 859.18 L641.95 853.89 L642.2 846.75 L642.45 837.58 L642.7 826.48 L642.95 813.86 L643.2 800.54 L643.45 787.68 L643.7 776.76 L643.95 769.34 L644.2 766.7 L644.45 768.99 L644.7 775.5 L644.95 785.21 L645.2 796.89 L645.45 809.3 L645.7 821.41 L645.95 832.45 L646.2 841.94 L646.45 849.69 L646.7 855.72 L646.95 860.2 L647.2 863.41 L647.45 865.63 L647.7 867.13 L647.95 868.12 L648.2 868.77 L648.45 869.21 L648.7 869.52 L648.95 869.74 L649.2 869.92 L649.45 870.05 L649.7 870.17 L649.95 870.27 L650.2 870.36 L650.45 870.44 L650.7 870.51 L650.95 870.57 L651.2 870.62 L651.45 870.68 L651.7 870.72 L651.95 870.76 L652.2 870.8 L652.45 870.84 L652.7 870.87 L653.2 870.92 L653.7 870.97 L654.2 871.01 L654.7 871.05 L655.2 871.08 L655.95 871.12 L656.7 871.15 L657.7 871.19 L658.95 871.22 L660.45 871.25 L662.45 871.28 L665.45 871.31 L670.45 871.34 L673.95 871.31 L674.2 871.27 L674.45 871.22 L674.7 871.14 L674.95 871.02 L675.2 870.86 L675.45 870.65 L675.7 870.39 L675.95 870.08 L676.2 869.74 L676.45 869.39 L676.7 869.05 L676.95 868.76 L677.2 868.54 L677.45 868.42 L677.7 868.4 L677.95 868.45 L678.2 868.54 L678.45 868.68 L678.7 868.85 L678.95 869.06 L679.2 869.28 L679.45 869.51 L679.7 869.75 L679.95 869.98 L680.2 870.19 L680.45 870.39 L680.7 870.58 L680.95 870.73 L681.2 870.87 L681.45 870.98 L681.7 871.08 L681.95 871.15 L682.2 871.21 L682.45 871.25 L682.7 871.29 L683.2 871.33 L684.2 871.37 L690.45 871.38 L696.7 871.39 L702.95 871.39 L705.7 871.35 L706.2 871.31 L706.45 871.28 L706.7 871.24 L706.95 871.19 L707.2 871.13 L707.45 871.06 L707.7 870.98 L707.95 870.9 L708.2 870.82 L708.45 870.75 L708.7 870.68 L708.95 870.64 L709.45 870.6 L710.2 870.65 L710.45 870.69 L710.7 870.74 L710.95 870.79 L711.2 870.84 L711.45 870.9 L711.7 870.95 L711.95 871.01 L712.2 871.06 L712.45 871.11 L712.7 871.16 L712.95 871.2 L713.2 871.23 L713.45 871.26 L713.95 871.31 L714.45 871.35 L715.45 871.38 L721.7 871.39 L727.95 871.39 L734.2 871.4 L740.45 871.4 L746.7 871.4 L752.95 871.4 L759.2 871.4 L765.45 871.4 L771.7 871.4 L777.95 871.4 L784.2 871.4 L790.45 871.4 L796.7 871.4 L797.7 871.4" fill="none" stroke="#848f3e" stroke-width="1.4" stroke-linejoin="round"/></g>
<path d="M526.1 877.6V885M539.72 877.6V881.7M553.33 877.6V881.7M566.95 877.6V881.7M580.56 877.6V881.7M594.17 877.6V885M607.79 877.6V881.7M621.4 877.6V881.7M635.02 877.6V881.7M648.63 877.6V881.7M662.25 877.6V885M675.87 877.6V881.7M689.48 877.6V881.7M703.1 877.6V881.7M716.71 877.6V881.7M730.33 877.6V885M743.94 877.6V881.7M757.56 877.6V881.7M771.17 877.6V881.7M784.78 877.6V881.7M798.4 877.6V885" stroke="#1c1c1c" stroke-width="1.4" fill="none"/><text transform="translate(526.4 905.6) scale(0.9616 1)" font-size="15.2" text-anchor="middle">1</text><text transform="translate(594.47 905.6) scale(0.9616 1)" font-size="15.2" text-anchor="middle">2</text><text transform="translate(662.55 905.6) scale(0.9616 1)" font-size="15.2" text-anchor="middle">3</text><text transform="translate(730.62 905.6) scale(0.9616 1)" font-size="15.2" text-anchor="middle">4</text><text transform="translate(798.7 905.6) scale(0.9616 1)" font-size="15.2" text-anchor="middle">5</text><text transform="translate(658.6 933.2) scale(1.0135 1)" font-size="15.3" text-anchor="middle">Retention time (min)</text>
<path d="M416.9 877V885.4" stroke="#111" stroke-width="1.7"/>
<g><path d="M953.1 121.1 V241.4 H1236.1" fill="none" stroke="#1c1c1c" stroke-width="1.75"/><text transform="translate(936.1 244.2) scale(0.9733 1)" font-size="15.6" text-anchor="end">0</text><text transform="translate(936.1 207.1) scale(0.9733 1)" font-size="15.6" text-anchor="end">50000</text><text transform="translate(936.1 168.8) scale(0.9733 1)" font-size="15.6" text-anchor="end">100000</text><text transform="translate(936.1 130.5) scale(0.9733 1)" font-size="15.6" text-anchor="end">150000</text><path d="M944.3 236.7H953.1M948.4 229.04H953.1M948.4 221.38H953.1M948.4 213.72H953.1M948.4 206.06H953.1M944.3 198.4H953.1M948.4 190.74H953.1M948.4 183.08H953.1M948.4 175.42H953.1M948.4 167.76H953.1M944.3 160.1H953.1M948.4 152.44H953.1M948.4 144.78H953.1M948.4 137.12H953.1M948.4 129.46H953.1M944.3 121.8H953.1" stroke="#1c1c1c" stroke-width="1.5" fill="none"/><text transform="translate(835 177.4) rotate(-90) scale(1.0176 1)" font-size="17.7" text-anchor="middle">Intensity</text><text transform="translate(1171.2 151.65) scale(1.0190 1)" font-size="21">A<tspan dy="5.9" dx="1.5" font-size="14.1">A2G1</tspan></text><path d="M955 145.8H1071.2" stroke="#8c8c8c" stroke-width="1.4" stroke-dasharray="7.5 4.7" fill="none"/><path d="M953.2 235.58 L953.7 235.61 L954.2 235.65 L954.7 235.69 L955.2 235.73 L955.7 235.78 L956.2 235.81 L956.7 235.85 L957.45 235.89 L963.2 235.92 L964.2 235.95 L965.2 235.98 L968.45 235.95 L968.95 235.91 L969.45 235.87 L969.95 235.83 L970.45 235.79 L970.95 235.75 L971.45 235.72 L972.2 235.68 L974.7 235.71 L975.2 235.75 L975.7 235.78 L976.2 235.82 L976.7 235.85 L977.2 235.89 L977.95 235.92 L980.95 235.89 L981.7 235.85 L982.45 235.81 L983.2 235.77 L984.2 235.74 L989.2 235.71 L989.95 235.68 L990.7 235.64 L991.45 235.59 L992.2 235.56 L993.2 235.52 L994.95 235.56 L995.45 235.59 L995.95 235.63 L996.45 235.68 L996.95 235.73 L997.45 235.78 L997.95 235.83 L998.45 235.87 L998.95 235.91 L999.7 235.95 L1002.45 235.91 L1003.2 235.88 L1003.95 235.84 L1004.95 235.8 L1008.45 235.83 L1012.7 235.8 L1013.7 235.77 L1016.45 235.81 L1017.2 235.85 L1017.7 235.89 L1018.2 235.93 L1018.7 235.96 L1019.2 236 L1019.95 236.04 L1022.45 236 L1022.95 235.96 L1023.45 235.92 L1023.95 235.87 L1024.45 235.82 L1024.95 235.78 L1025.45 235.73 L1025.95 235.69 L1026.45 235.66 L1027.2 235.63 L1030.7 235.67 L1034.7 235.64 L1037.7 235.67 L1038.45 235.71 L1038.95 235.74 L1039.45 235.78 L1039.95 235.81 L1040.45 235.84 L1041.2 235.88 L1043.95 235.84 L1044.45 235.8 L1044.95 235.76 L1045.45 235.72 L1045.95 235.69 L1046.45 235.65 L1047.2 235.61 L1050.2 235.66 L1050.7 235.69 L1051.2 235.72 L1051.7 235.76 L1052.2 235.79 L1052.95 235.82 L1053.95 235.86 L1056.7 235.83 L1056.95 235.8 L1057.2 235.76 L1057.45 235.69 L1057.7 235.58 L1057.95 235.39 L1058.2 235.1 L1058.45 234.7 L1058.7 234.15 L1058.95 233.46 L1059.2 232.65 L1059.45 231.78 L1059.7 230.94 L1059.95 230.21 L1060.2 229.71 L1060.45 229.49 L1060.7 229.54 L1060.95 229.77 L1061.2 230.14 L1061.45 230.64 L1061.7 231.21 L1061.95 231.84 L1062.2 232.48 L1062.45 233.09 L1062.7 233.65 L1062.95 234.15 L1063.2 234.57 L1063.45 234.91 L1063.7 235.18 L1063.95 235.38 L1064.2 235.52 L1064.45 235.62 L1064.7 235.67 L1064.95 235.7 L1065.95 235.67 L1066.45 235.62 L1066.7 235.59 L1066.95 235.56 L1067.2 235.53 L1067.45 235.5 L1067.95 235.44 L1068.45 235.39 L1068.95 235.34 L1069.45 235.3 L1069.95 235.27 L1070.7 235.23 L1071.45 235.19 L1071.95 235.15 L1072.45 235.1 L1072.7 235.07 L1072.95 235.03 L1073.2 234.98 L1073.45 234.91 L1073.7 234.81 L1073.95 234.67 L1074.2 234.45 L1074.45 234.12 L1074.7 233.63 L1074.95 232.88 L1075.2 231.76 L1075.45 230.15 L1075.7 227.87 L1075.95 224.76 L1076.2 220.64 L1076.45 215.37 L1076.7 208.9 L1076.95 201.25 L1077.2 192.61 L1077.45 183.29 L1077.7 173.79 L1077.95 164.69 L1078.2 156.69 L1078.45 150.5 L1078.7 146.74 L1078.95 145.81 L1079.2 147.95 L1079.45 152.95 L1079.7 160.21 L1079.95 168.98 L1080.2 178.4 L1080.45 187.69 L1080.7 196.12 L1080.95 203.1 L1081.2 208.17 L1081.45 211 L1081.7 211.43 L1081.95 209.5 L1082.2 205.46 L1082.45 199.82 L1082.7 193.36 L1082.95 187.04 L1083.2 181.92 L1083.45 179 L1083.7 178.82 L1083.95 180.72 L1084.2 184.3 L1084.45 189.21 L1084.7 194.96 L1084.95 201.1 L1085.2 207.19 L1085.45 212.88 L1085.7 217.93 L1085.95 222.21 L1086.2 225.68 L1086.45 228.39 L1086.7 230.41 L1086.95 231.88 L1087.2 232.91 L1087.45 233.61 L1087.7 234.07 L1087.95 234.37 L1088.2 234.55 L1088.45 234.66 L1088.7 234.72 L1088.95 234.72 L1089.2 234.68 L1089.45 234.6 L1089.7 234.47 L1089.95 234.31 L1090.2 234.11 L1090.45 233.92 L1090.7 233.74 L1090.95 233.62 L1091.2 233.58 L1091.45 233.62 L1091.7 233.7 L1091.95 233.83 L1092.2 233.99 L1092.45 234.17 L1092.7 234.37 L1092.95 234.58 L1093.2 234.77 L1093.45 234.96 L1093.7 235.12 L1093.95 235.27 L1094.2 235.39 L1094.45 235.49 L1094.7 235.58 L1094.95 235.64 L1095.2 235.7 L1095.45 235.74 L1095.7 235.77 L1096.2 235.82 L1096.95 235.86 L1099.7 235.83 L1101.2 235.8 L1103.95 235.83 L1107.95 235.79 L1108.7 235.75 L1109.45 235.71 L1110.2 235.68 L1112.95 235.71 L1113.45 235.74 L1113.95 235.78 L1114.45 235.82 L1114.95 235.86 L1115.45 235.9 L1115.95 235.93 L1116.7 235.96 L1118.95 235.91 L1119.45 235.88 L1119.95 235.84 L1120.45 235.8 L1120.95 235.76 L1121.45 235.72 L1121.95 235.68 L1122.7 235.64 L1123.95 235.61 L1126.7 235.65 L1130.2 235.61 L1133.7 235.65 L1134.2 235.68 L1134.7 235.72 L1135.2 235.76 L1135.7 235.81 L1136.2 235.85 L1136.7 235.89 L1137.2 235.93 L1137.95 235.97 L1140.45 235.93 L1140.95 235.89 L1141.45 235.86 L1141.95 235.82 L1142.45 235.79 L1142.95 235.76 L1143.7 235.72 L1146.7 235.76 L1147.45 235.8 L1148.2 235.84 L1149.2 235.87 L1155.45 235.89 L1156.2 235.93 L1156.95 235.96 L1157.7 236 L1160.7 235.97 L1161.2 235.93 L1161.7 235.88 L1162.2 235.83 L1162.7 235.78 L1163.2 235.73 L1163.7 235.68 L1164.2 235.64 L1164.7 235.6 L1165.45 235.57 L1167.95 235.61 L1168.7 235.65 L1169.45 235.69 L1170.2 235.73 L1171.45 235.76 L1174.2 235.73 L1177.45 235.76 L1178.2 235.8 L1178.95 235.83 L1180.2 235.86 L1181.95 235.83 L1182.7 235.79 L1183.2 235.75 L1183.7 235.72 L1184.2 235.69 L1184.7 235.65 L1185.45 235.62 L1187.95 235.65 L1188.45 235.69 L1188.95 235.73 L1189.45 235.77 L1189.95 235.82 L1190.45 235.87 L1190.95 235.91 L1191.45 235.95 L1192.2 235.99 L1195.95 235.95 L1197.2 235.92 L1203.2 235.88 L1203.7 235.85 L1204.2 235.82 L1204.7 235.78 L1205.2 235.74 L1205.7 235.7 L1206.2 235.67 L1206.95 235.63 L1209.45 235.66 L1209.95 235.7 L1210.45 235.73 L1210.95 235.77 L1211.45 235.81 L1211.95 235.85 L1212.7 235.89 L1215.7 235.85 L1216.2 235.82 L1216.7 235.79 L1217.2 235.76 L1217.95 235.72 L1218.7 235.69 L1224.95 235.68 L1225.95 235.65 L1226.95 235.62 L1229.7 235.65 L1230.2 235.69 L1230.7 235.73 L1231.2 235.77 L1231.7 235.82 L1232.2 235.87 L1232.7 235.92 L1233.2 235.97 L1233.7 236 L1234.45 236.04 L1235.2 236.05" fill="none" stroke="#161616" stroke-width="1.5" stroke-linejoin="round"/></g>
<g><path d="M953.1 248.4 V368.7 H1236.1" fill="none" stroke="#1c1c1c" stroke-width="1.75"/><text transform="translate(936.1 371.5) scale(0.9733 1)" font-size="15.6" text-anchor="end">0</text><text transform="translate(936.1 334.4) scale(0.9733 1)" font-size="15.6" text-anchor="end">50000</text><text transform="translate(936.1 296.1) scale(0.9733 1)" font-size="15.6" text-anchor="end">100000</text><text transform="translate(936.1 257.8) scale(0.9733 1)" font-size="15.6" text-anchor="end">150000</text><path d="M944.3 364H953.1M948.4 356.34H953.1M948.4 348.68H953.1M948.4 341.02H953.1M948.4 333.36H953.1M944.3 325.7H953.1M948.4 318.04H953.1M948.4 310.38H953.1M948.4 302.72H953.1M948.4 295.06H953.1M944.3 287.4H953.1M948.4 279.74H953.1M948.4 272.08H953.1M948.4 264.42H953.1M948.4 256.76H953.1M944.3 249.1H953.1" stroke="#1c1c1c" stroke-width="1.5" fill="none"/><text transform="translate(835 304.7) rotate(-90) scale(1.0176 1)" font-size="17.7" text-anchor="middle">Intensity</text><text transform="translate(1171.2 278.95) scale(1.0190 1)" font-size="21">B<tspan dy="5.9" dx="1.5" font-size="14.1">A2G1</tspan></text><path d="M955 272.8H1071.2" stroke="#8c8c8c" stroke-width="1.4" stroke-dasharray="7.5 4.7" fill="none"/><path d="M953.2 362.66 L956.2 362.69 L956.95 362.74 L957.7 362.78 L958.45 362.82 L959.95 362.85 L961.7 362.81 L962.7 362.78 L963.95 362.75 L966.95 362.78 L970.45 362.74 L970.95 362.71 L971.45 362.68 L971.95 362.64 L972.45 362.61 L972.95 362.58 L973.7 362.54 L976.2 362.57 L976.7 362.61 L977.2 362.65 L977.7 362.7 L978.2 362.75 L978.7 362.8 L979.2 362.85 L979.7 362.89 L980.2 362.92 L980.95 362.95 L983.95 362.92 L985.2 362.89 L988.95 362.92 L991.95 362.88 L992.7 362.84 L993.45 362.79 L994.2 362.75 L994.95 362.72 L997.7 362.76 L998.2 362.79 L998.7 362.83 L999.2 362.87 L999.7 362.91 L1000.2 362.94 L1000.95 362.98 L1003.7 362.95 L1004.2 362.91 L1004.7 362.87 L1005.2 362.83 L1005.7 362.79 L1006.2 362.76 L1006.7 362.72 L1007.45 362.69 L1013.2 362.66 L1014.2 362.62 L1015.2 362.59 L1018.45 362.63 L1018.95 362.67 L1019.45 362.71 L1019.95 362.75 L1020.45 362.8 L1020.95 362.84 L1021.45 362.88 L1021.95 362.92 L1022.7 362.95 L1024.95 362.91 L1025.45 362.88 L1025.95 362.85 L1026.45 362.81 L1026.95 362.78 L1027.45 362.75 L1028.2 362.71 L1031.2 362.74 L1031.95 362.78 L1032.7 362.81 L1033.7 362.84 L1039.95 362.87 L1040.7 362.91 L1041.45 362.95 L1042.2 362.99 L1043.2 363.03 L1044.95 363 L1045.45 362.96 L1045.95 362.92 L1046.45 362.88 L1046.95 362.82 L1047.45 362.77 L1047.95 362.72 L1048.45 362.67 L1048.95 362.63 L1049.45 362.59 L1050.2 362.56 L1052.7 362.59 L1053.45 362.62 L1054.45 362.66 L1055.45 362.64 L1055.7 362.6 L1055.95 362.53 L1056.2 362.42 L1056.45 362.26 L1056.7 362.02 L1056.95 361.71 L1057.2 361.32 L1057.45 360.87 L1057.7 360.39 L1057.95 359.94 L1058.2 359.57 L1058.45 359.31 L1058.7 359.22 L1058.95 359.26 L1059.2 359.39 L1059.45 359.59 L1059.7 359.86 L1059.95 360.17 L1060.2 360.5 L1060.45 360.84 L1060.7 361.16 L1060.95 361.46 L1061.2 361.72 L1061.45 361.94 L1061.7 362.13 L1061.95 362.27 L1062.2 362.39 L1062.45 362.48 L1062.7 362.54 L1062.95 362.59 L1063.2 362.62 L1063.7 362.66 L1065.95 362.62 L1066.45 362.58 L1066.95 362.53 L1067.2 362.5 L1067.45 362.47 L1067.7 362.44 L1067.95 362.4 L1068.2 362.36 L1068.45 362.33 L1068.7 362.29 L1068.95 362.25 L1069.2 362.21 L1069.45 362.16 L1069.7 362.12 L1069.95 362.08 L1070.2 362.03 L1070.45 361.98 L1070.7 361.93 L1070.95 361.88 L1071.2 361.82 L1071.45 361.74 L1071.7 361.65 L1071.95 361.52 L1072.2 361.34 L1072.45 361.07 L1072.7 360.66 L1072.95 360.04 L1073.2 359.12 L1073.45 357.75 L1073.7 355.8 L1073.95 353.09 L1074.2 349.45 L1074.45 344.73 L1074.7 338.82 L1074.95 331.72 L1075.2 323.55 L1075.45 314.57 L1075.7 305.18 L1075.95 295.95 L1076.2 287.53 L1076.45 280.63 L1076.7 275.89 L1076.95 273.83 L1077.2 274.57 L1077.45 277.8 L1077.7 283.19 L1077.95 290.22 L1078.2 298.28 L1078.45 306.74 L1078.7 315 L1078.95 322.51 L1079.2 328.81 L1079.45 333.55 L1079.7 336.48 L1079.95 337.48 L1080.2 336.56 L1080.45 333.93 L1080.7 329.93 L1080.95 325.09 L1081.2 320.08 L1081.45 315.64 L1081.7 312.49 L1081.95 311.22 L1082.2 311.96 L1082.45 314.35 L1082.7 318.12 L1082.95 322.91 L1083.2 328.3 L1083.45 333.86 L1083.7 339.25 L1083.95 344.17 L1084.2 348.47 L1084.45 352.05 L1084.7 354.91 L1084.95 357.11 L1085.2 358.74 L1085.45 359.9 L1085.7 360.71 L1085.95 361.26 L1086.2 361.62 L1086.45 361.84 L1086.7 361.97 L1086.95 362.03 L1087.2 362.04 L1087.45 362.01 L1087.7 361.95 L1087.95 361.87 L1088.2 361.79 L1088.45 361.71 L1088.7 361.65 L1089.45 361.67 L1089.7 361.71 L1089.95 361.77 L1090.2 361.84 L1090.45 361.92 L1090.7 361.99 L1090.95 362.06 L1091.2 362.13 L1091.45 362.19 L1091.7 362.24 L1091.95 362.29 L1092.2 362.32 L1092.45 362.35 L1092.95 362.4 L1093.45 362.45 L1093.95 362.49 L1094.45 362.53 L1094.95 362.58 L1095.45 362.63 L1095.95 362.68 L1096.45 362.72 L1096.95 362.76 L1097.7 362.8 L1100.7 362.76 L1101.45 362.72 L1102.2 362.68 L1102.95 362.65 L1109.2 362.64 L1110.2 362.61 L1111.2 362.57 L1112.7 362.54 L1114.2 362.58 L1114.7 362.61 L1115.2 362.65 L1115.7 362.7 L1116.2 362.75 L1116.7 362.8 L1117.2 362.85 L1117.7 362.9 L1118.2 362.94 L1118.7 362.97 L1119.7 363 L1121.45 362.96 L1122.2 362.92 L1122.7 362.89 L1123.2 362.86 L1123.95 362.82 L1124.95 362.79 L1127.95 362.82 L1129.7 362.85 L1131.7 362.82 L1132.7 362.79 L1136.45 362.83 L1136.95 362.86 L1137.45 362.89 L1137.95 362.92 L1138.45 362.95 L1139.2 362.99 L1141.7 362.95 L1142.2 362.92 L1142.7 362.87 L1143.2 362.82 L1143.7 362.77 L1144.2 362.72 L1144.7 362.68 L1145.2 362.64 L1145.7 362.61 L1146.45 362.57 L1149.2 362.61 L1150.2 362.65 L1151.45 362.68 L1157.2 362.72 L1157.95 362.76 L1158.45 362.8 L1158.95 362.83 L1159.45 362.86 L1160.2 362.91 L1161.2 362.94 L1162.95 362.91 L1163.7 362.86 L1164.2 362.83 L1164.7 362.79 L1165.2 362.75 L1165.7 362.72 L1166.45 362.67 L1169.45 362.72 L1169.95 362.75 L1170.45 362.79 L1170.95 362.82 L1171.45 362.86 L1171.95 362.89 L1172.7 362.93 L1178.95 362.93 L1180.2 362.96 L1183.7 362.93 L1184.2 362.89 L1184.7 362.85 L1185.2 362.81 L1185.7 362.76 L1186.2 362.71 L1186.7 362.67 L1187.2 362.63 L1187.7 362.59 L1188.7 362.56 L1190.45 362.6 L1190.95 362.63 L1191.45 362.67 L1191.95 362.7 L1192.45 362.74 L1192.95 362.77 L1193.7 362.81 L1197.45 362.78 L1198.45 362.74 L1202.95 362.77 L1205.7 362.74 L1206.45 362.7 L1207.2 362.66 L1207.95 362.63 L1210.95 362.66 L1211.45 362.7 L1211.95 362.75 L1212.45 362.8 L1212.95 362.85 L1213.45 362.9 L1213.95 362.95 L1214.45 362.99 L1214.95 363.02 L1215.7 363.05 L1217.95 363.02 L1218.7 362.98 L1219.45 362.93 L1220.2 362.9 L1221.2 362.87 L1226.95 362.83 L1227.7 362.79 L1228.45 362.75 L1229.2 362.72 L1230.2 362.68 L1232.45 362.73 L1232.95 362.76 L1233.45 362.79 L1233.95 362.83 L1234.45 362.86 L1234.95 362.9 L1235.2 362.91" fill="none" stroke="#161616" stroke-width="1.5" stroke-linejoin="round"/></g>
<g><path d="M953.1 375.7 V496 H1236.1" fill="none" stroke="#1c1c1c" stroke-width="1.75"/><text transform="translate(936.1 498.8) scale(0.9733 1)" font-size="15.6" text-anchor="end">0</text><text transform="translate(936.1 461.7) scale(0.9733 1)" font-size="15.6" text-anchor="end">50000</text><text transform="translate(936.1 423.4) scale(0.9733 1)" font-size="15.6" text-anchor="end">100000</text><text transform="translate(936.1 385.1) scale(0.9733 1)" font-size="15.6" text-anchor="end">150000</text><path d="M944.3 491.3H953.1M948.4 483.64H953.1M948.4 475.98H953.1M948.4 468.32H953.1M948.4 460.66H953.1M944.3 453H953.1M948.4 445.34H953.1M948.4 437.68H953.1M948.4 430.02H953.1M948.4 422.36H953.1M944.3 414.7H953.1M948.4 407.04H953.1M948.4 399.38H953.1M948.4 391.72H953.1M948.4 384.06H953.1M944.3 376.4H953.1" stroke="#1c1c1c" stroke-width="1.5" fill="none"/><text transform="translate(835 432) rotate(-90) scale(1.0176 1)" font-size="17.7" text-anchor="middle">Intensity</text><text transform="translate(1171.2 406.25) scale(1.0190 1)" font-size="21">C<tspan dy="5.9" dx="1.5" font-size="14.1">A2G1</tspan></text><path d="M955 400.2H1071.2" stroke="#8c8c8c" stroke-width="1.4" stroke-dasharray="7.5 4.7" fill="none"/><path d="M953.2 490.23 L953.95 490.27 L954.95 490.31 L957.2 490.27 L958.2 490.24 L959.2 490.2 L965.45 490.17 L966.2 490.13 L966.7 490.1 L967.2 490.06 L967.7 490.02 L968.2 489.98 L968.7 489.95 L969.45 489.91 L971.95 489.95 L972.45 489.99 L972.95 490.03 L973.45 490.08 L973.95 490.13 L974.45 490.18 L974.95 490.22 L975.45 490.26 L976.2 490.3 L979.7 490.27 L980.95 490.23 L984.2 490.27 L988.2 490.23 L988.95 490.19 L989.7 490.16 L990.7 490.13 L992.7 490.16 L993.45 490.2 L993.95 490.24 L994.45 490.28 L994.95 490.33 L995.45 490.37 L995.95 490.4 L996.7 490.44 L999.2 490.4 L999.7 490.37 L1000.2 490.33 L1000.7 490.29 L1001.2 490.25 L1001.7 490.21 L1002.2 490.18 L1002.95 490.14 L1003.95 490.1 L1009.2 490.07 L1010.2 490.03 L1011.2 489.99 L1014.2 490.04 L1014.7 490.07 L1015.2 490.11 L1015.7 490.15 L1016.2 490.19 L1016.7 490.23 L1017.2 490.26 L1017.95 490.3 L1020.45 490.27 L1020.95 490.24 L1021.45 490.2 L1021.95 490.16 L1022.45 490.13 L1022.95 490.1 L1023.7 490.06 L1026.7 490.09 L1027.45 490.13 L1028.2 490.17 L1028.95 490.2 L1030.45 490.23 L1035.2 490.27 L1035.95 490.31 L1036.45 490.34 L1036.95 490.37 L1037.45 490.4 L1038.2 490.44 L1041.2 490.39 L1041.7 490.35 L1042.2 490.31 L1042.7 490.26 L1043.2 490.2 L1043.7 490.15 L1044.2 490.11 L1044.7 490.07 L1045.45 490.03 L1048.45 490.07 L1049.2 490.1 L1049.95 490.13 L1054.2 490.1 L1055.7 490.07 L1056.7 490.01 L1056.95 489.97 L1057.2 489.89 L1057.45 489.79 L1057.7 489.64 L1057.95 489.44 L1058.2 489.21 L1058.45 488.95 L1058.7 488.68 L1058.95 488.44 L1059.2 488.25 L1059.45 488.15 L1059.7 488.14 L1059.95 488.19 L1060.2 488.28 L1060.45 488.42 L1060.7 488.59 L1060.95 488.77 L1061.2 488.96 L1061.45 489.15 L1061.7 489.32 L1061.95 489.47 L1062.2 489.6 L1062.45 489.7 L1062.7 489.77 L1062.95 489.83 L1063.2 489.86 L1064.95 489.82 L1065.45 489.78 L1065.95 489.74 L1066.7 489.71 L1071.45 489.66 L1071.7 489.64 L1071.95 489.6 L1072.2 489.56 L1072.45 489.5 L1072.7 489.42 L1072.95 489.31 L1073.2 489.14 L1073.45 488.9 L1073.7 488.54 L1073.95 487.99 L1074.2 487.17 L1074.45 485.96 L1074.7 484.22 L1074.95 481.77 L1075.2 478.45 L1075.45 474.09 L1075.7 468.56 L1075.95 461.82 L1076.2 453.93 L1076.45 445.09 L1076.7 435.65 L1076.95 426.14 L1077.2 417.18 L1077.45 409.46 L1077.7 403.7 L1077.95 400.47 L1078.2 400.12 L1078.45 402.7 L1078.7 407.87 L1078.95 415.08 L1079.2 423.59 L1079.45 432.65 L1079.7 441.5 L1079.95 449.48 L1080.2 456.01 L1080.45 460.67 L1080.7 463.17 L1080.95 463.37 L1081.2 461.38 L1081.45 457.5 L1081.7 452.28 L1081.95 446.48 L1082.2 441.01 L1082.45 436.83 L1082.7 434.76 L1082.95 435.13 L1083.2 437.35 L1083.45 441.13 L1083.7 446.1 L1083.95 451.79 L1084.2 457.77 L1084.45 463.62 L1084.7 469.02 L1084.95 473.78 L1085.2 477.77 L1085.45 480.99 L1085.7 483.47 L1085.95 485.32 L1086.2 486.64 L1086.45 487.57 L1086.7 488.18 L1086.95 488.58 L1087.2 488.83 L1087.45 488.95 L1087.7 489 L1087.95 488.97 L1088.2 488.89 L1088.45 488.78 L1088.7 488.64 L1088.95 488.5 L1089.2 488.39 L1089.45 488.33 L1089.7 488.34 L1089.95 488.4 L1090.2 488.49 L1090.45 488.62 L1090.7 488.77 L1090.95 488.93 L1091.2 489.09 L1091.45 489.24 L1091.7 489.37 L1091.95 489.46 L1092.2 489.51 L1092.45 489.5 L1092.7 489.44 L1092.95 489.33 L1093.2 489.18 L1093.45 489.01 L1093.7 488.86 L1093.95 488.74 L1094.2 488.68 L1094.45 488.69 L1094.7 488.74 L1094.95 488.82 L1095.2 488.94 L1095.45 489.07 L1095.7 489.21 L1095.95 489.35 L1096.2 489.49 L1096.45 489.61 L1096.7 489.72 L1096.95 489.8 L1097.2 489.87 L1097.45 489.93 L1097.7 489.96 L1098.2 490 L1102.45 490.03 L1105.2 490 L1105.95 489.97 L1106.7 489.94 L1107.7 489.91 L1109.95 489.95 L1110.45 489.98 L1110.95 490.02 L1111.45 490.07 L1111.95 490.12 L1112.45 490.17 L1112.95 490.22 L1113.45 490.26 L1113.95 490.3 L1114.7 490.33 L1117.2 490.3 L1117.95 490.25 L1118.45 490.22 L1119.2 490.18 L1119.95 490.15 L1123.45 490.19 L1124.45 490.22 L1129.2 490.19 L1131.2 490.22 L1131.95 490.26 L1132.45 490.29 L1132.95 490.33 L1133.45 490.36 L1133.95 490.39 L1134.7 490.43 L1137.45 490.39 L1137.95 490.35 L1138.45 490.3 L1138.95 490.25 L1139.45 490.2 L1139.95 490.15 L1140.45 490.11 L1140.95 490.07 L1141.45 490.04 L1142.45 490 L1144.7 490.04 L1145.7 490.07 L1146.95 490.1 L1150.45 490.07 L1152.95 490.11 L1153.7 490.15 L1154.45 490.19 L1155.2 490.24 L1155.95 490.27 L1158.95 490.23 L1159.45 490.19 L1159.95 490.16 L1160.45 490.12 L1160.95 490.08 L1161.45 490.05 L1162.2 490.01 L1164.7 490.05 L1165.2 490.08 L1165.7 490.12 L1166.2 490.16 L1166.7 490.2 L1167.2 490.24 L1167.7 490.27 L1168.45 490.31 L1169.7 490.35 L1175.95 490.38 L1179.7 490.33 L1180.2 490.3 L1180.7 490.25 L1181.2 490.21 L1181.7 490.16 L1182.2 490.12 L1182.7 490.08 L1183.2 490.05 L1183.95 490.02 L1185.95 490.05 L1186.7 490.1 L1187.2 490.13 L1187.7 490.17 L1188.2 490.2 L1188.95 490.25 L1189.95 490.28 L1191.95 490.25 L1192.7 490.21 L1193.45 490.18 L1194.2 490.15 L1195.7 490.12 L1198.7 490.15 L1200.95 490.11 L1201.7 490.07 L1202.45 490.03 L1203.2 490 L1204.2 489.96 L1206.2 490 L1206.7 490.03 L1207.2 490.07 L1207.7 490.12 L1208.2 490.17 L1208.7 490.22 L1209.2 490.27 L1209.7 490.32 L1210.2 490.36 L1210.7 490.39 L1211.7 490.42 L1213.45 490.39 L1214.2 490.35 L1214.95 490.31 L1215.7 490.28 L1216.95 490.24 L1219.95 490.28 L1222.95 490.24 L1223.7 490.21 L1224.45 490.17 L1225.45 490.14 L1227.95 490.18 L1228.7 490.23 L1229.2 490.26 L1229.7 490.3 L1230.2 490.33 L1230.7 490.36 L1231.45 490.39 L1233.7 490.35 L1234.2 490.32 L1234.7 490.28 L1235.2 490.23" fill="none" stroke="#161616" stroke-width="1.5" stroke-linejoin="round"/></g>
<g><path d="M953.1 503 V623.3 H1236.1" fill="none" stroke="#1c1c1c" stroke-width="1.75"/><text transform="translate(936.1 626.1) scale(0.9733 1)" font-size="15.6" text-anchor="end">0</text><text transform="translate(936.1 589) scale(0.9733 1)" font-size="15.6" text-anchor="end">50000</text><text transform="translate(936.1 550.7) scale(0.9733 1)" font-size="15.6" text-anchor="end">100000</text><text transform="translate(936.1 512.4) scale(0.9733 1)" font-size="15.6" text-anchor="end">150000</text><path d="M944.3 618.6H953.1M948.4 610.94H953.1M948.4 603.28H953.1M948.4 595.62H953.1M948.4 587.96H953.1M944.3 580.3H953.1M948.4 572.64H953.1M948.4 564.98H953.1M948.4 557.32H953.1M948.4 549.66H953.1M944.3 542H953.1M948.4 534.34H953.1M948.4 526.68H953.1M948.4 519.02H953.1M948.4 511.36H953.1M944.3 503.7H953.1" stroke="#1c1c1c" stroke-width="1.5" fill="none"/><text transform="translate(835 559.3) rotate(-90) scale(1.0176 1)" font-size="17.7" text-anchor="middle">Intensity</text><text transform="translate(1171.2 533.55) scale(1.0190 1)" font-size="21">D<tspan dy="5.9" dx="-0.3" font-size="14.1">A2G1</tspan></text><path d="M955 527.2H1071.2" stroke="#8c8c8c" stroke-width="1.4" stroke-dasharray="7.5 4.7" fill="none"/><path d="M953.2 617.51 L953.7 617.54 L954.45 617.57 L957.7 617.54 L959.2 617.51 L961.7 617.55 L962.95 617.58 L965.95 617.54 L966.7 617.5 L967.45 617.46 L968.2 617.43 L971.2 617.48 L971.7 617.51 L972.2 617.55 L972.7 617.6 L973.2 617.64 L973.7 617.68 L974.2 617.72 L974.95 617.75 L977.45 617.72 L977.95 617.68 L978.45 617.65 L978.95 617.61 L979.45 617.57 L979.95 617.53 L980.45 617.5 L981.2 617.47 L985.7 617.43 L986.95 617.4 L987.7 617.37 L988.45 617.33 L989.2 617.3 L992.45 617.34 L992.95 617.38 L993.45 617.42 L993.95 617.46 L994.45 617.5 L994.95 617.54 L995.45 617.57 L996.2 617.6 L998.45 617.57 L998.95 617.54 L999.45 617.5 L999.95 617.47 L1000.45 617.43 L1000.95 617.4 L1001.7 617.36 L1004.95 617.39 L1005.7 617.43 L1006.45 617.46 L1007.45 617.49 L1012.7 617.53 L1013.45 617.57 L1013.95 617.6 L1014.45 617.63 L1014.95 617.67 L1015.45 617.7 L1015.95 617.73 L1016.7 617.77 L1019.2 617.73 L1019.7 617.7 L1020.2 617.65 L1020.7 617.6 L1021.2 617.55 L1021.7 617.51 L1022.2 617.46 L1022.7 617.42 L1023.2 617.39 L1024.2 617.36 L1026.2 617.4 L1026.95 617.43 L1027.7 617.46 L1028.95 617.5 L1031.7 617.46 L1033.2 617.43 L1035.7 617.46 L1036.7 617.5 L1037.95 617.53 L1039.95 617.49 L1040.7 617.45 L1041.2 617.41 L1041.7 617.37 L1042.2 617.32 L1042.7 617.28 L1043.2 617.25 L1043.95 617.21 L1046.45 617.24 L1046.95 617.27 L1047.45 617.31 L1047.95 617.35 L1048.45 617.4 L1048.95 617.44 L1049.45 617.48 L1049.95 617.51 L1050.7 617.54 L1054.7 617.51 L1055.2 617.46 L1055.45 617.42 L1055.7 617.34 L1055.95 617.23 L1056.2 617.06 L1056.45 616.84 L1056.7 616.55 L1056.95 616.2 L1057.2 615.83 L1057.45 615.46 L1057.7 615.13 L1057.95 614.88 L1058.2 614.76 L1058.45 614.77 L1058.7 614.86 L1058.95 615.01 L1059.2 615.21 L1059.45 615.46 L1059.7 615.73 L1059.95 616 L1060.2 616.27 L1060.45 616.52 L1060.7 616.73 L1060.95 616.92 L1061.2 617.07 L1061.45 617.18 L1061.7 617.26 L1061.95 617.32 L1062.2 617.35 L1063.7 617.32 L1064.2 617.28 L1064.7 617.24 L1065.2 617.2 L1065.95 617.17 L1069.45 617.13 L1070.2 617.1 L1070.7 617.06 L1070.95 617.02 L1071.2 616.98 L1071.45 616.93 L1071.7 616.86 L1071.95 616.77 L1072.2 616.64 L1072.45 616.46 L1072.7 616.19 L1072.95 615.79 L1073.2 615.18 L1073.45 614.29 L1073.7 612.97 L1073.95 611.1 L1074.2 608.48 L1074.45 604.96 L1074.7 600.37 L1074.95 594.59 L1075.2 587.61 L1075.45 579.5 L1075.7 570.5 L1075.95 561.01 L1076.2 551.55 L1076.45 542.78 L1076.7 535.4 L1076.95 530.09 L1077.2 527.41 L1077.45 527.67 L1077.7 530.88 L1077.95 536.66 L1078.2 544.37 L1078.45 553.24 L1078.7 562.48 L1078.95 571.35 L1079.2 579.19 L1079.45 585.45 L1079.7 589.73 L1079.95 591.77 L1080.2 591.5 L1080.45 589.04 L1080.7 584.74 L1080.95 579.21 L1081.2 573.25 L1081.45 567.81 L1081.7 563.87 L1081.95 562.23 L1082.2 562.99 L1082.45 565.51 L1082.7 569.53 L1082.95 574.63 L1083.2 580.37 L1083.45 586.31 L1083.7 592.05 L1083.95 597.3 L1084.2 601.87 L1084.45 605.68 L1084.7 608.72 L1084.95 611.06 L1085.2 612.78 L1085.45 614.01 L1085.7 614.85 L1085.95 615.42 L1086.2 615.77 L1086.45 615.99 L1086.7 616.1 L1086.95 616.13 L1087.2 616.12 L1087.45 616.08 L1087.7 616.03 L1087.95 615.99 L1088.45 615.99 L1088.7 616.04 L1088.95 616.12 L1089.2 616.21 L1089.45 616.32 L1089.7 616.44 L1089.95 616.56 L1090.2 616.69 L1090.45 616.81 L1090.7 616.92 L1090.95 617.02 L1091.2 617.11 L1091.45 617.18 L1091.7 617.24 L1091.95 617.3 L1092.2 617.34 L1092.45 617.38 L1092.95 617.43 L1093.7 617.46 L1095.95 617.43 L1096.7 617.4 L1097.7 617.36 L1100.95 617.4 L1101.7 617.43 L1102.7 617.47 L1108.95 617.47 L1109.7 617.51 L1110.2 617.54 L1110.7 617.58 L1111.2 617.62 L1111.7 617.66 L1112.2 617.69 L1112.95 617.73 L1115.7 617.69 L1116.2 617.65 L1116.7 617.6 L1117.2 617.55 L1117.7 617.5 L1118.2 617.46 L1118.7 617.42 L1119.2 617.38 L1119.95 617.34 L1123.45 617.37 L1124.95 617.4 L1127.7 617.37 L1131.2 617.4 L1131.95 617.45 L1132.45 617.48 L1132.95 617.51 L1133.7 617.55 L1134.7 617.58 L1136.7 617.54 L1137.2 617.51 L1137.7 617.47 L1138.2 617.43 L1138.7 617.39 L1139.2 617.35 L1139.7 617.32 L1140.45 617.29 L1142.7 617.32 L1143.2 617.35 L1143.7 617.38 L1144.2 617.42 L1144.7 617.46 L1145.2 617.5 L1145.7 617.53 L1146.45 617.57 L1147.45 617.61 L1152.95 617.64 L1153.95 617.68 L1154.95 617.71 L1157.45 617.68 L1157.95 617.64 L1158.45 617.61 L1158.95 617.56 L1159.45 617.52 L1159.95 617.47 L1160.45 617.43 L1160.95 617.39 L1161.7 617.35 L1164.45 617.39 L1164.95 617.42 L1165.45 617.46 L1165.95 617.49 L1166.45 617.52 L1167.2 617.56 L1170.7 617.53 L1171.45 617.49 L1172.45 617.45 L1178.7 617.42 L1179.45 617.39 L1180.2 617.34 L1180.7 617.31 L1181.45 617.27 L1182.2 617.24 L1184.45 617.27 L1184.95 617.31 L1185.45 617.35 L1185.95 617.4 L1186.45 617.45 L1186.95 617.51 L1187.45 617.55 L1187.95 617.6 L1188.45 617.64 L1189.2 617.67 L1192.2 617.63 L1192.95 617.6 L1193.95 617.56 L1200.2 617.57 L1201.2 617.54 L1201.95 617.5 L1202.7 617.47 L1203.7 617.44 L1205.95 617.48 L1206.45 617.51 L1206.95 617.55 L1207.45 617.58 L1207.95 617.62 L1208.45 617.66 L1209.2 617.7 L1212.2 617.65 L1212.7 617.61 L1213.2 617.57 L1213.7 617.52 L1214.2 617.48 L1214.7 617.44 L1215.2 617.4 L1215.7 617.37 L1216.45 617.34 L1220.45 617.37 L1223.45 617.34 L1226.95 617.37 L1227.45 617.4 L1227.95 617.44 L1228.45 617.48 L1228.95 617.52 L1229.45 617.56 L1229.95 617.6 L1230.7 617.64 L1233.45 617.6 L1233.95 617.57 L1234.45 617.53 L1234.95 617.49 L1235.2 617.48" fill="none" stroke="#161616" stroke-width="1.5" stroke-linejoin="round"/></g>
<g><path d="M953.1 630.3 V750.6 H1236.1" fill="none" stroke="#1c1c1c" stroke-width="1.75"/><text transform="translate(936.1 753.4) scale(0.9733 1)" font-size="15.6" text-anchor="end">0</text><text transform="translate(936.1 716.3) scale(0.9733 1)" font-size="15.6" text-anchor="end">50000</text><text transform="translate(936.1 678) scale(0.9733 1)" font-size="15.6" text-anchor="end">100000</text><text transform="translate(936.1 639.7) scale(0.9733 1)" font-size="15.6" text-anchor="end">150000</text><path d="M944.3 745.9H953.1M948.4 738.24H953.1M948.4 730.58H953.1M948.4 722.92H953.1M948.4 715.26H953.1M944.3 707.6H953.1M948.4 699.94H953.1M948.4 692.28H953.1M948.4 684.62H953.1M948.4 676.96H953.1M944.3 669.3H953.1M948.4 661.64H953.1M948.4 653.98H953.1M948.4 646.32H953.1M948.4 638.66H953.1M944.3 631H953.1" stroke="#1c1c1c" stroke-width="1.5" fill="none"/><text transform="translate(835 686.6) rotate(-90) scale(1.0176 1)" font-size="17.7" text-anchor="middle">Intensity</text><text transform="translate(1171.2 660.85) scale(1.0190 1)" font-size="21">E<tspan dy="5.9" dx="1.5" font-size="14.1">A2G1</tspan></text><path d="M955 653.9H1071.2" stroke="#8c8c8c" stroke-width="1.4" stroke-dasharray="7.5 4.7" fill="none"/><path d="M953.2 744.6 L959.45 744.64 L960.2 744.67 L961.2 744.71 L963.95 744.66 L964.45 744.62 L964.95 744.58 L965.45 744.53 L965.95 744.48 L966.45 744.43 L966.95 744.38 L967.45 744.34 L967.95 744.3 L968.7 744.27 L970.95 744.31 L971.7 744.35 L972.2 744.38 L972.7 744.41 L973.45 744.45 L974.45 744.48 L977.45 744.45 L981.7 744.48 L982.7 744.52 L985.7 744.48 L986.45 744.43 L986.95 744.4 L987.45 744.37 L988.2 744.32 L989.2 744.29 L990.95 744.33 L991.45 744.36 L991.95 744.4 L992.45 744.45 L992.95 744.5 L993.45 744.55 L993.95 744.6 L994.45 744.64 L994.95 744.67 L995.7 744.71 L998.7 744.67 L999.7 744.64 L1000.95 744.61 L1006.45 744.57 L1007.2 744.53 L1007.7 744.5 L1008.2 744.46 L1008.7 744.43 L1009.2 744.39 L1009.95 744.36 L1012.95 744.4 L1013.45 744.43 L1013.95 744.47 L1014.45 744.51 L1014.95 744.55 L1015.45 744.58 L1016.2 744.61 L1018.7 744.57 L1019.2 744.54 L1019.7 744.51 L1020.2 744.47 L1020.7 744.43 L1021.2 744.4 L1021.95 744.36 L1023.2 744.33 L1025.95 744.36 L1029.45 744.33 L1030.95 744.3 L1032.7 744.33 L1033.45 744.38 L1033.95 744.42 L1034.45 744.46 L1034.95 744.51 L1035.45 744.56 L1035.95 744.6 L1036.45 744.64 L1036.95 744.68 L1037.7 744.71 L1039.95 744.67 L1040.45 744.64 L1040.95 744.61 L1041.45 744.57 L1041.95 744.53 L1042.45 744.5 L1043.2 744.46 L1047.2 744.5 L1048.7 744.53 L1050.95 744.5 L1052.2 744.46 L1055.95 744.43 L1056.2 744.38 L1056.45 744.3 L1056.7 744.18 L1056.95 744.02 L1057.2 743.81 L1057.45 743.58 L1057.7 743.32 L1057.95 743.08 L1058.2 742.88 L1058.45 742.74 L1058.7 742.69 L1058.95 742.71 L1059.2 742.78 L1059.45 742.88 L1059.7 743.02 L1059.95 743.18 L1060.2 743.35 L1060.45 743.51 L1060.7 743.67 L1060.95 743.81 L1061.2 743.93 L1061.45 744.02 L1061.7 744.09 L1061.95 744.14 L1062.45 744.18 L1063.45 744.14 L1063.95 744.1 L1064.45 744.06 L1064.95 744.02 L1065.7 743.98 L1066.7 743.95 L1068.45 743.91 L1069.2 743.88 L1069.7 743.83 L1069.95 743.81 L1070.2 743.77 L1070.45 743.74 L1070.7 743.69 L1070.95 743.63 L1071.2 743.57 L1071.45 743.48 L1071.7 743.37 L1071.95 743.21 L1072.2 742.99 L1072.45 742.67 L1072.7 742.18 L1072.95 741.45 L1073.2 740.36 L1073.45 738.78 L1073.7 736.52 L1073.95 733.39 L1074.2 729.19 L1074.45 723.76 L1074.7 716.97 L1074.95 708.83 L1075.2 699.46 L1075.45 689.15 L1075.7 678.4 L1075.95 667.82 L1076.2 658.17 L1076.45 650.26 L1076.7 644.84 L1076.95 642.48 L1077.2 643.39 L1077.45 647.35 L1077.7 653.92 L1077.95 662.44 L1078.2 672.13 L1078.45 682.21 L1078.7 691.94 L1078.95 700.64 L1079.2 707.79 L1079.45 712.97 L1079.7 715.9 L1079.95 716.46 L1080.2 714.74 L1080.45 711 L1080.7 705.75 L1080.95 699.7 L1081.2 693.71 L1081.45 688.74 L1081.7 685.65 L1081.95 685.07 L1082.2 686.68 L1082.45 690.09 L1082.7 694.94 L1082.95 700.78 L1083.2 707.11 L1083.45 713.46 L1083.7 719.48 L1083.95 724.87 L1084.2 729.48 L1084.45 733.25 L1084.7 736.21 L1084.95 738.46 L1085.2 740.09 L1085.45 741.24 L1085.7 742.02 L1085.95 742.53 L1086.2 742.85 L1086.45 743.03 L1086.7 743.1 L1086.95 743.1 L1087.2 743.04 L1087.45 742.96 L1087.7 742.86 L1087.95 742.78 L1088.2 742.74 L1088.45 742.75 L1088.7 742.81 L1088.95 742.9 L1089.2 743.02 L1089.45 743.16 L1089.7 743.3 L1089.95 743.45 L1090.2 743.59 L1090.45 743.71 L1090.7 743.81 L1090.95 743.87 L1091.45 743.86 L1091.7 743.79 L1091.95 743.7 L1092.2 743.59 L1092.45 743.5 L1092.7 743.43 L1093.2 743.43 L1093.45 743.47 L1093.7 743.54 L1093.95 743.63 L1094.2 743.73 L1094.45 743.83 L1094.7 743.94 L1094.95 744.04 L1095.2 744.13 L1095.45 744.21 L1095.7 744.28 L1095.95 744.33 L1096.2 744.37 L1096.45 744.4 L1096.95 744.44 L1097.7 744.48 L1098.95 744.51 L1102.95 744.47 L1103.45 744.43 L1103.95 744.39 L1104.45 744.35 L1104.95 744.31 L1105.45 744.28 L1105.95 744.25 L1106.7 744.21 L1108.95 744.25 L1109.45 744.28 L1109.95 744.32 L1110.45 744.37 L1110.95 744.41 L1111.45 744.45 L1111.95 744.48 L1112.7 744.52 L1115.7 744.48 L1116.45 744.44 L1117.2 744.41 L1118.2 744.38 L1121.45 744.41 L1125.45 744.38 L1126.45 744.34 L1129.45 744.38 L1129.95 744.42 L1130.45 744.46 L1130.95 744.51 L1131.45 744.56 L1131.95 744.61 L1132.45 744.66 L1132.95 744.7 L1133.45 744.73 L1134.2 744.77 L1136.2 744.74 L1136.95 744.69 L1137.45 744.66 L1137.95 744.62 L1138.45 744.59 L1139.2 744.55 L1140.2 744.51 L1146.45 744.49 L1147.2 744.45 L1148.2 744.42 L1151.45 744.45 L1152.2 744.5 L1152.7 744.53 L1153.2 744.57 L1153.95 744.61 L1155.2 744.64 L1156.45 744.6 L1157.2 744.56 L1157.7 744.52 L1158.2 744.47 L1158.7 744.42 L1159.2 744.38 L1159.7 744.34 L1160.2 744.3 L1160.95 744.26 L1163.95 744.3 L1164.7 744.34 L1165.45 744.37 L1166.45 744.4 L1170.95 744.43 L1171.95 744.47 L1172.7 744.52 L1173.2 744.55 L1173.7 744.59 L1174.2 744.62 L1174.7 744.66 L1175.45 744.7 L1178.45 744.66 L1178.95 744.62 L1179.45 744.58 L1179.95 744.54 L1180.45 744.5 L1180.95 744.46 L1181.7 744.42 L1184.7 744.46 L1185.2 744.49 L1185.7 744.52 L1186.2 744.56 L1186.95 744.6 L1187.95 744.63 L1190.95 744.6 L1192.45 744.56 L1195.45 744.6 L1198.45 744.57 L1198.95 744.54 L1199.45 744.5 L1199.95 744.46 L1200.45 744.41 L1200.95 744.36 L1201.45 744.32 L1201.95 744.28 L1202.45 744.24 L1203.2 744.21 L1205.45 744.25 L1205.95 744.29 L1206.45 744.33 L1206.95 744.37 L1207.45 744.41 L1207.95 744.45 L1208.45 744.48 L1209.2 744.51 L1212.95 744.48 L1216.95 744.52 L1218.2 744.55 L1220.7 744.51 L1221.45 744.48 L1222.2 744.44 L1222.95 744.4 L1226.2 744.44 L1226.7 744.48 L1227.2 744.53 L1227.7 744.58 L1228.2 744.62 L1228.7 744.67 L1229.2 744.71 L1229.7 744.74 L1230.45 744.77 L1232.7 744.73 L1233.45 744.69 L1233.95 744.66 L1234.45 744.62 L1235.2 744.58" fill="none" stroke="#161616" stroke-width="1.5" stroke-linejoin="round"/></g>
<g><path d="M953.1 757.6 V877.9 H1236.1" fill="none" stroke="#1c1c1c" stroke-width="1.75"/><text transform="translate(936.1 880.7) scale(0.9733 1)" font-size="15.6" text-anchor="end">0</text><text transform="translate(936.1 843.6) scale(0.9733 1)" font-size="15.6" text-anchor="end">50000</text><text transform="translate(936.1 805.3) scale(0.9733 1)" font-size="15.6" text-anchor="end">100000</text><text transform="translate(936.1 767) scale(0.9733 1)" font-size="15.6" text-anchor="end">150000</text><path d="M944.3 873.2H953.1M948.4 865.54H953.1M948.4 857.88H953.1M948.4 850.22H953.1M948.4 842.56H953.1M944.3 834.9H953.1M948.4 827.24H953.1M948.4 819.58H953.1M948.4 811.92H953.1M948.4 804.26H953.1M944.3 796.6H953.1M948.4 788.94H953.1M948.4 781.28H953.1M948.4 773.62H953.1M948.4 765.96H953.1M944.3 758.3H953.1" stroke="#1c1c1c" stroke-width="1.5" fill="none"/><text transform="translate(835 813.9) rotate(-90) scale(1.0176 1)" font-size="17.7" text-anchor="middle">Intensity</text><text transform="translate(1171.2 788.15) scale(1.0190 1)" font-size="21">F<tspan dy="5.9" dx="1.5" font-size="14.1">A2G1</tspan></text><path d="M955 781.6H1071.2" stroke="#8c8c8c" stroke-width="1.4" stroke-dasharray="7.5 4.7" fill="none"/><path d="M953.2 871.76 L956.7 871.79 L957.45 871.82 L958.2 871.87 L958.7 871.9 L959.2 871.94 L959.7 871.97 L960.2 872 L960.95 872.04 L963.45 872 L963.95 871.97 L964.45 871.93 L964.95 871.88 L965.45 871.84 L965.95 871.8 L966.45 871.76 L967.2 871.72 L970.2 871.76 L970.95 871.81 L971.7 871.85 L972.45 871.89 L976.7 871.85 L982.95 871.87 L983.95 871.82 L984.45 871.79 L984.95 871.75 L985.45 871.71 L985.95 871.67 L986.45 871.62 L986.95 871.58 L987.45 871.54 L988.2 871.5 L990.7 871.54 L991.2 871.58 L991.7 871.62 L992.2 871.66 L992.7 871.71 L993.2 871.75 L993.7 871.78 L994.45 871.82 L999.45 871.79 L1001.7 871.83 L1002.7 871.86 L1006.45 871.82 L1007.2 871.78 L1007.95 871.74 L1008.7 871.71 L1011.45 871.75 L1011.95 871.78 L1012.45 871.83 L1012.95 871.87 L1013.45 871.92 L1013.95 871.96 L1014.45 872 L1014.95 872.03 L1015.95 872.06 L1017.7 872.02 L1018.45 871.98 L1018.95 871.95 L1019.45 871.91 L1019.95 871.88 L1020.45 871.85 L1021.2 871.81 L1022.45 871.78 L1026.45 871.74 L1027.2 871.71 L1027.95 871.67 L1028.7 871.63 L1029.45 871.59 L1030.45 871.56 L1032.45 871.6 L1032.95 871.63 L1033.45 871.66 L1033.95 871.7 L1034.45 871.74 L1034.95 871.78 L1035.45 871.82 L1035.95 871.85 L1036.95 871.89 L1038.7 871.85 L1039.45 871.81 L1039.95 871.77 L1040.45 871.73 L1040.95 871.7 L1041.45 871.67 L1042.2 871.63 L1045.45 871.66 L1046.45 871.7 L1047.7 871.74 L1053.45 871.77 L1054.2 871.82 L1054.7 871.85 L1055.2 871.89 L1055.7 871.92 L1056.7 871.91 L1056.95 871.87 L1057.2 871.8 L1057.45 871.7 L1057.7 871.56 L1057.95 871.38 L1058.2 871.18 L1058.45 870.97 L1058.7 870.77 L1058.95 870.61 L1059.2 870.5 L1059.45 870.46 L1059.7 870.47 L1059.95 870.52 L1060.2 870.6 L1060.45 870.7 L1060.7 870.81 L1060.95 870.93 L1061.2 871.05 L1061.45 871.17 L1061.7 871.26 L1061.95 871.35 L1062.2 871.42 L1062.45 871.47 L1062.7 871.5 L1063.2 871.53 L1065.2 871.5 L1068.2 871.46 L1068.95 871.43 L1069.45 871.39 L1069.95 871.34 L1070.2 871.31 L1070.45 871.28 L1070.7 871.24 L1070.95 871.2 L1071.2 871.15 L1071.45 871.1 L1071.7 871.04 L1071.95 870.97 L1072.2 870.89 L1072.45 870.8 L1072.7 870.68 L1072.95 870.51 L1073.2 870.29 L1073.45 869.95 L1073.7 869.46 L1073.95 868.71 L1074.2 867.61 L1074.45 866 L1074.7 863.7 L1074.95 860.52 L1075.2 856.25 L1075.45 850.71 L1075.7 843.8 L1075.95 835.5 L1076.2 825.94 L1076.45 815.44 L1076.7 804.47 L1076.95 793.69 L1077.2 783.85 L1077.45 775.78 L1077.7 770.25 L1077.95 767.84 L1078.2 768.82 L1078.45 773.06 L1078.7 780.07 L1078.95 789.12 L1079.2 799.36 L1079.45 809.93 L1079.7 820.04 L1079.95 829 L1080.2 836.26 L1080.45 841.4 L1080.7 844.19 L1080.95 844.56 L1081.2 842.63 L1081.45 838.75 L1081.7 833.5 L1081.95 827.66 L1082.2 822.16 L1082.45 817.95 L1082.7 815.85 L1082.95 816.21 L1083.2 818.43 L1083.45 822.21 L1083.7 827.18 L1083.95 832.9 L1084.2 838.89 L1084.45 844.76 L1084.7 850.19 L1084.95 854.97 L1085.2 858.99 L1085.45 862.23 L1085.7 864.74 L1085.95 866.61 L1086.2 867.96 L1086.45 868.89 L1086.7 869.51 L1086.95 869.91 L1087.2 870.14 L1087.45 870.25 L1087.7 870.28 L1087.95 870.27 L1088.2 870.23 L1088.45 870.2 L1088.95 870.21 L1089.2 870.28 L1089.45 870.36 L1089.7 870.46 L1089.95 870.58 L1090.2 870.7 L1090.45 870.82 L1090.7 870.93 L1090.95 871.03 L1091.2 871.1 L1091.45 871.14 L1091.7 871.14 L1091.95 871.1 L1092.2 871.04 L1092.45 870.94 L1092.7 870.84 L1092.95 870.75 L1093.2 870.69 L1093.7 870.68 L1093.95 870.73 L1094.2 870.79 L1094.45 870.87 L1094.7 870.97 L1094.95 871.07 L1095.2 871.18 L1095.45 871.28 L1095.7 871.37 L1095.95 871.45 L1096.2 871.53 L1096.45 871.59 L1096.7 871.64 L1096.95 871.68 L1097.2 871.72 L1097.7 871.77 L1098.2 871.81 L1098.95 871.85 L1099.95 871.88 L1101.95 871.85 L1102.7 871.81 L1103.2 871.78 L1103.7 871.74 L1104.2 871.71 L1104.7 871.68 L1105.45 871.64 L1107.95 871.68 L1108.45 871.72 L1108.95 871.76 L1109.45 871.8 L1109.95 871.84 L1110.45 871.87 L1110.95 871.91 L1111.7 871.94 L1114.45 871.9 L1115.2 871.86 L1115.95 871.82 L1116.7 871.79 L1117.7 871.76 L1122.45 871.72 L1123.2 871.69 L1123.95 871.64 L1124.45 871.61 L1124.95 871.58 L1125.7 871.54 L1126.7 871.5 L1128.7 871.55 L1129.2 871.58 L1129.7 871.62 L1130.2 871.67 L1130.7 871.72 L1131.2 871.77 L1131.7 871.81 L1132.2 871.85 L1132.7 871.88 L1133.7 871.91 L1135.45 871.88 L1136.2 871.84 L1136.95 871.81 L1137.7 871.77 L1138.95 871.74 L1141.2 871.77 L1142.2 871.8 L1146.95 871.77 L1149.7 871.8 L1150.2 871.83 L1150.7 871.87 L1151.2 871.91 L1151.7 871.95 L1152.2 871.99 L1152.7 872.03 L1153.45 872.07 L1155.95 872.04 L1156.45 872 L1156.95 871.96 L1157.45 871.91 L1157.95 871.87 L1158.45 871.82 L1158.95 871.78 L1159.45 871.74 L1160.2 871.7 L1166.45 871.71 L1167.7 871.68 L1169.2 871.65 L1171.2 871.69 L1171.95 871.73 L1172.45 871.76 L1172.95 871.79 L1173.45 871.82 L1174.2 871.86 L1175.45 871.89 L1176.95 871.85 L1177.45 871.82 L1177.95 871.78 L1178.45 871.74 L1178.95 871.7 L1179.45 871.66 L1179.95 871.63 L1180.7 871.59 L1183.45 871.63 L1183.95 871.66 L1184.45 871.7 L1184.95 871.73 L1185.45 871.77 L1185.95 871.8 L1186.7 871.84 L1187.7 871.87 L1192.2 871.9 L1193.2 871.94 L1193.95 871.97 L1194.7 872.01 L1195.7 872.04 L1197.7 872.01 L1198.2 871.98 L1198.7 871.94 L1199.2 871.9 L1199.7 871.85 L1200.2 871.81 L1200.7 871.76 L1201.2 871.72 L1201.7 871.69 L1202.45 871.66 L1204.7 871.7 L1205.45 871.75 L1205.95 871.78 L1206.45 871.81 L1207.2 871.85 L1208.2 871.88 L1210.7 871.85 L1211.45 871.82 L1212.45 871.78 L1218.7 871.76 L1219.45 871.72 L1219.95 871.69 L1220.45 871.66 L1220.95 871.62 L1221.45 871.59 L1222.2 871.54 L1223.2 871.51 L1224.7 871.54 L1225.2 871.58 L1225.7 871.62 L1226.2 871.66 L1226.7 871.71 L1227.2 871.76 L1227.7 871.81 L1228.2 871.86 L1228.7 871.89 L1229.2 871.93 L1230.2 871.96 L1232.2 871.93 L1233.2 871.89 L1234.2 871.86 L1235.2 871.85" fill="none" stroke="#161616" stroke-width="1.5" stroke-linejoin="round"/></g>
<path d="M952.5 877.9V885.3M966.64 877.9V881.7M980.79 877.9V881.7M994.94 877.9V881.7M1009.08 877.9V881.7M1023.23 877.9V885.3M1037.37 877.9V881.7M1051.52 877.9V881.7M1065.66 877.9V881.7M1079.81 877.9V881.7M1093.95 877.9V885.3M1108.1 877.9V881.7M1122.24 877.9V881.7M1136.38 877.9V881.7M1150.53 877.9V881.7M1164.68 877.9V885.3M1178.82 877.9V881.7M1192.97 877.9V881.7M1207.11 877.9V881.7M1221.26 877.9V881.7M1235.4 877.9V885.3" stroke="#1c1c1c" stroke-width="1.5" fill="none"/><text transform="translate(952.8 905.6) scale(0.9616 1)" font-size="15.2" text-anchor="middle">1</text><text transform="translate(1023.52 905.6) scale(0.9616 1)" font-size="15.2" text-anchor="middle">2</text><text transform="translate(1094.25 905.6) scale(0.9616 1)" font-size="15.2" text-anchor="middle">3</text><text transform="translate(1164.98 905.6) scale(0.9616 1)" font-size="15.2" text-anchor="middle">4</text><text transform="translate(1235.7 905.6) scale(0.9616 1)" font-size="15.2" text-anchor="middle">5</text><text transform="translate(1092.3 933.2) scale(1.0135 1)" font-size="15.3" text-anchor="middle">Retention time (min)</text>
<g><path d="M705.5 28.2L726.8 49.8" stroke="#222" stroke-width="1.6" stroke-dasharray="2.9 1.7" fill="none"/><path d="M726.8 49.8L706.4 68.9" stroke="#222" stroke-width="1.6" stroke-dasharray="2.9 1.7" fill="none"/><path d="M726.8 49.8L748 71.4" stroke="#222" stroke-width="1.6" stroke-dasharray="2.9 1.7" fill="none"/><path d="M748 71.4L728.1 90.3" stroke="#222" stroke-width="1.6" stroke-dasharray="2.9 1.7" fill="none"/><path d="M748 71.3L790 71.3" stroke="#222" stroke-width="1.6" fill="none"/><circle cx="705.5" cy="28.2" r="5.8" fill="#fff" stroke="#222" stroke-width="1.7"/><circle cx="726.8" cy="49.8" r="5.8" fill="#fff" stroke="#222" stroke-width="1.7"/><circle cx="706.4" cy="68.9" r="5.8" fill="#fff" stroke="#222" stroke-width="1.7"/><circle cx="748" cy="71.4" r="5.8" fill="#fff" stroke="#222" stroke-width="1.7"/><circle cx="728.1" cy="90.3" r="5.8" fill="#fff" stroke="#222" stroke-width="1.7"/><rect x="762.2" y="65.6" width="11.6" height="11.0" fill="#111"/><rect x="782.5" y="65.6" width="11.6" height="11.0" fill="#111"/></g>
<g><path d="M1184.6 28.6L1205.6 50" stroke="#222" stroke-width="1.6" stroke-dasharray="2.9 1.7" fill="none"/><path d="M1186.1 68.9L1205.6 50" stroke="#222" stroke-width="1.6" stroke-dasharray="2.9 1.7" fill="none"/><path d="M1184.6 28.6L1184.4 49" stroke="#222" stroke-width="1.6" fill="none"/><path d="M1186.1 68.9L1185.9 89" stroke="#222" stroke-width="1.6" fill="none"/><path d="M1205.6 50L1247 49.6" stroke="#222" stroke-width="1.6" fill="none"/><circle cx="1184.6" cy="28.6" r="5.7" fill="#fff" stroke="#222" stroke-width="1.7"/><circle cx="1205.6" cy="50" r="5.7" fill="#fff" stroke="#222" stroke-width="1.7"/><circle cx="1186.1" cy="68.9" r="5.7" fill="#fff" stroke="#222" stroke-width="1.7"/><rect x="1178.5" y="43.9" width="11.4" height="10.8" fill="#111"/><rect x="1179.8" y="84.25" width="12" height="11.3" fill="#111"/><rect x="1220.1" y="43.75" width="11.8" height="11.3" fill="#111"/><rect x="1240.5" y="43.75" width="11.6" height="11.3" fill="#111"/><path d="M1133.7 69.1L1139.8 61.6L1146 69.1L1139.8 76.8Z" fill="#fff" stroke="#222" stroke-width="1.5" stroke-linejoin="miter"/><path d="M1146.2 69.1L1158.8 69.1" stroke="#222" stroke-width="1.6" fill="none"/><path d="M1169.6 40.9C1167 41.2 1167.6 43 1167.6 46V63C1167.6 67 1167 68.6 1165 69.2C1167 69.8 1167.6 71.4 1167.6 75.4V92.5C1167.6 95.8 1167 97.4 1169.6 97.8" fill="none" stroke="#222" stroke-width="1.1" stroke-linejoin="round"/></g>
</svg></body></html>
